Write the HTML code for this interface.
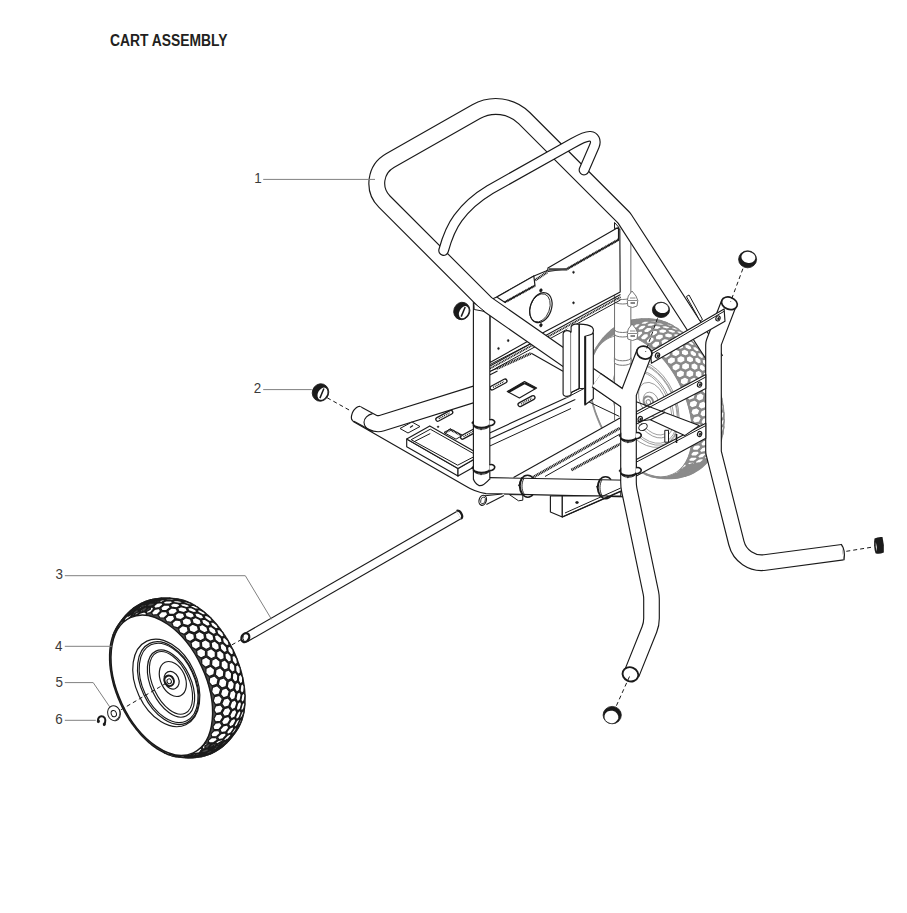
<!DOCTYPE html><html><head><meta charset="utf-8"><style>html,body{margin:0;padding:0;background:#fff;}body{width:907px;height:913px;position:relative;overflow:hidden;font-family:"Liberation Sans",sans-serif;}.t{position:absolute;font-family:"Liberation Sans",sans-serif;color:#231f20;white-space:nowrap;line-height:1;}</style></head><body><svg width="907" height="913" viewBox="0 0 907 913" style="position:absolute;left:0;top:0">
<rect width="907" height="913" fill="#fff"/>
<path d="M664.9 478.5 L663.6 478.4 L662.3 478.3 L657.9 477.9 L656.6 477.7 L655.3 477.5 L654.0 477.3 L652.6 477.0 L651.3 476.6 L649.9 476.2 L648.6 475.8 L647.2 475.3 L645.9 474.7 L644.5 474.1 L643.1 473.5 L641.8 472.8 L640.4 472.0 L639.0 471.3 L637.7 470.4 L636.3 469.6 L635.0 468.7 L633.6 467.7 L632.2 466.7 L630.9 465.7 L629.6 464.6 L628.2 463.5 L626.9 462.3 L625.6 461.1 L624.3 459.9 L623.0 458.6 L621.7 457.3 L620.5 456.0 L619.2 454.6 L618.0 453.2 L616.8 451.7 L615.6 450.3 L614.4 448.7 L613.2 447.2 L612.1 445.6 L610.9 444.1 L609.8 442.4 L608.7 440.8 L607.7 439.1 L606.6 437.5 L605.6 435.7 L604.6 434.0 L603.6 432.3 L602.7 430.5 L601.8 428.7 L600.9 426.9 L600.0 425.1 L599.2 423.3 L598.4 421.4 L597.6 419.6 L596.9 417.7 L596.2 415.9 L595.5 414.0 L594.8 412.1 L594.2 410.2 L593.6 408.3 L593.0 406.5 L592.5 404.6 L592.0 402.7 L591.6 400.8 L591.1 398.9 L590.7 397.0 L590.4 395.2 L590.1 393.3 L589.8 391.5 L589.5 389.6 L589.3 387.8 L589.1 386.0 L589.0 384.2 L588.9 382.4 L588.8 380.6 L588.8 378.8 L588.8 377.1 L588.8 375.4 L588.9 373.7 L589.0 372.0 L589.1 370.4 L589.3 368.7 L589.5 367.1 L589.7 365.5 L590.0 364.0 L590.3 362.5 L590.7 361.0 L591.1 359.5 L591.5 358.1 L592.0 356.7 L592.4 355.4 L593.0 354.0 L593.5 352.7 L594.1 351.5 L594.7 350.3 L595.4 349.1 L596.1 347.9 L596.8 346.8 L599.3 343.2 L600.1 342.1 L600.9 341.1 L603.6 337.7 L604.5 336.7 L605.3 335.7 L606.3 334.7 L607.2 333.8 L610.4 330.9 L611.4 330.0 L612.4 329.2 L613.4 328.5 L614.5 327.8 L615.6 327.1 L619.2 324.9 L620.3 324.2 L621.5 323.7 L622.7 323.2 L623.9 322.7 L627.9 321.3 L629.1 320.9 L630.4 320.6 L631.6 320.2 L632.9 320.0 L634.2 319.8 L638.5 319.2 L639.7 319.1 L641.1 319.0 L642.4 319.0 L643.7 319.0 L648.1 319.0 L649.4 319.1 L650.7 319.2 L655.1 319.6 L656.4 319.8 L657.7 320.0 L659.0 320.2 L660.4 320.5 L661.7 320.9 L663.1 321.3 L664.4 321.7 L665.8 322.2 L667.1 322.8 L668.5 323.4 L669.9 324.0 L671.2 324.7 L672.6 325.5 L674.0 326.2 L675.3 327.1 L676.7 327.9 L678.0 328.8 L679.4 329.8 L680.8 330.8 L682.1 331.8 L683.4 332.9 L684.8 334.0 L686.1 335.2 L687.4 336.4 L688.7 337.6 L690.0 338.9 L691.3 340.2 L692.5 341.5 L693.8 342.9 L695.0 344.3 L696.2 345.8 L697.4 347.2 L698.6 348.8 L699.8 350.3 L700.9 351.9 L702.1 353.4 L703.2 355.1 L704.3 356.7 L705.3 358.4 L706.4 360.0 L707.4 361.8 L708.4 363.5 L709.4 365.2 L710.3 367.0 L711.2 368.8 L712.1 370.6 L713.0 372.4 L713.8 374.2 L714.6 376.1 L715.4 377.9 L716.1 379.8 L716.8 381.6 L717.5 383.5 L718.2 385.4 L718.8 387.3 L719.4 389.2 L720.0 391.0 L720.5 392.9 L721.0 394.8 L721.4 396.7 L721.9 398.6 L722.3 400.5 L722.6 402.3 L722.9 404.2 L723.2 406.0 L723.5 407.9 L723.7 409.7 L723.9 411.5 L724.0 413.3 L724.1 415.1 L724.2 416.9 L724.2 418.7 L724.2 420.4 L724.2 422.1 L724.1 423.8 L724.0 425.5 L723.9 427.1 L723.7 428.8 L723.5 430.4 L723.3 432.0 L723.0 433.5 L722.7 435.0 L722.3 436.5 L721.9 438.0 L721.5 439.4 L721.0 440.8 L720.6 442.1 L720.0 443.5 L719.5 444.8 L718.9 446.0 L718.3 447.2 L717.6 448.4 L716.9 449.6 L716.2 450.7 L713.7 454.3 L712.9 455.4 L712.1 456.4 L709.4 459.8 L708.5 460.8 L707.7 461.8 L706.7 462.8 L705.8 463.7 L702.6 466.6 L701.6 467.5 L700.6 468.3 L699.6 469.0 L698.5 469.7 L697.4 470.4 L693.8 472.6 L692.7 473.3 L691.5 473.8 L690.3 474.3 L689.1 474.8 L685.1 476.2 L683.9 476.6 L682.6 476.9 L681.4 477.3 L680.1 477.5 L678.8 477.7 L674.5 478.3 L673.3 478.4 L671.9 478.5 L670.6 478.5 L669.3 478.5Z" fill="#8c8c8c" stroke="#8a8a8a" stroke-width="0.9"/>
<path d="M645.7 474.6 L649.4 475.7 L653.2 475.9 L652.6 474.9 L648.3 473.8 L644.7 473.6Z M651.1 476.6 L654.8 477.3 L658.7 477.6 L658.3 477.0 L653.9 476.2 L650.2 475.9Z M656.4 477.7 L660.2 478.1 L664.2 478.4 L663.8 478.2 L659.5 477.7 L655.6 477.5Z M661.6 478.1 L665.3 478.2 L669.4 478.5 L669.2 478.6 L664.9 478.5 L660.9 478.2Z M666.5 477.7 L670.1 477.4 L674.4 477.7 L674.4 478.1 L670.2 478.4 L666.0 478.1Z M671.1 476.5 L674.7 475.8 L679.1 476.1 L679.3 476.9 L675.1 477.5 L670.8 477.2Z M675.4 474.5 L678.9 473.5 L683.4 473.7 L683.8 474.8 L679.7 475.8 L675.3 475.5Z M679.4 471.7 L682.7 470.4 L687.3 470.5 L687.9 471.9 L684.0 473.3 L679.4 473.1Z M682.9 468.3 L686.0 466.6 L690.7 466.6 L691.6 468.3 L687.8 470.0 L683.2 469.9Z M685.9 464.1 L688.9 462.1 L693.7 462.0 L694.8 463.9 L691.2 466.0 L686.4 466.0Z M688.5 459.3 L691.2 457.0 L696.1 456.7 L697.5 458.9 L694.1 461.3 L689.2 461.4Z M690.5 453.9 L693.0 451.3 L698.0 450.9 L699.6 453.2 L696.4 456.0 L691.5 456.2Z M692.0 448.0 L694.3 445.2 L699.3 444.6 L701.2 447.0 L698.2 450.1 L693.3 450.5Z M692.9 441.7 L695.0 438.5 L700.0 437.8 L702.1 440.3 L699.4 443.6 L694.4 444.3Z M693.2 434.9 L695.1 431.6 L700.1 430.6 L702.5 433.2 L700.0 436.8 L695.0 437.6Z M693.0 427.8 L694.6 424.3 L699.6 423.1 L702.3 425.8 L700.0 429.6 L695.1 430.6Z M692.2 420.5 L693.6 416.8 L698.5 415.5 L701.4 418.1 L699.5 422.1 L694.5 423.2Z M690.8 413.0 L691.9 409.2 L696.8 407.6 L700.0 410.3 L698.3 414.4 L693.4 415.7Z M688.9 405.5 L689.8 401.6 L694.6 399.8 L698.0 402.3 L696.6 406.5 L691.7 408.1Z M686.5 397.9 L687.1 394.0 L691.9 392.0 L695.4 394.4 L694.3 398.7 L689.4 400.5Z M683.6 390.5 L683.9 386.5 L688.6 384.3 L692.3 386.6 L691.4 390.9 L686.7 392.9Z M680.1 383.2 L680.3 379.2 L684.9 376.8 L688.8 378.9 L688.1 383.2 L683.4 385.4Z M676.3 376.1 L676.2 372.2 L680.7 369.7 L684.7 371.5 L684.3 375.8 L679.7 378.2Z M672.1 369.4 L671.8 365.6 L676.1 362.9 L680.3 364.5 L680.1 368.7 L675.6 371.3Z M667.5 363.1 L667.0 359.4 L671.3 356.5 L675.5 357.8 L675.5 361.9 L671.1 364.7Z M662.6 357.3 L662.0 353.8 L666.1 350.7 L670.4 351.7 L670.5 355.7 L666.3 358.6Z M657.5 352.0 L656.8 348.6 L660.7 345.5 L665.0 346.2 L665.4 349.9 L661.3 353.0Z M652.3 347.3 L651.4 344.2 L655.2 340.9 L659.5 341.2 L659.9 344.8 L656.0 348.0Z M646.8 343.2 L645.9 340.4 L649.5 336.9 L653.8 337.0 L654.4 340.3 L650.6 343.6Z M641.4 339.8 L640.3 337.3 L643.8 333.8 L648.0 333.4 L648.7 336.5 L645.1 339.9Z M635.9 337.2 L634.8 334.9 L638.2 331.4 L642.3 330.7 L643.0 333.4 L639.5 336.9Z M630.5 335.3 L629.4 333.4 L632.6 329.8 L636.6 328.7 L637.4 331.1 L634.0 334.7Z M625.2 334.2 L624.1 332.6 L627.1 329.0 L631.0 327.5 L631.8 329.6 L628.6 333.2Z M620.0 333.9 L619.0 332.6 L621.9 329.0 L625.7 327.2 L626.4 328.9 L623.3 332.6Z M615.1 334.4 L614.1 333.5 L616.9 329.9 L620.5 327.7 L621.2 329.1 L618.3 332.7Z M610.5 335.7 L609.6 335.1 L612.3 331.5 L615.7 329.0 L616.3 330.1 L613.5 333.7Z M606.2 337.7 L605.5 337.5 L608.0 334.0 L611.2 331.2 L611.7 331.8 L609.0 335.4Z M602.4 340.5 L601.7 340.6 L604.2 337.2 L607.1 334.1 L607.5 334.4 L604.9 337.9Z M598.9 344.0 L598.4 344.5 L600.8 341.2 L603.4 337.8 L603.7 337.7 L601.2 341.1Z M595.9 348.2 L595.6 349.0 L597.9 345.9 L600.3 342.2 L600.3 341.8 L598.0 345.1Z M593.4 353.1 L593.2 354.2 L595.5 351.1 L597.6 347.3 L597.5 346.6 L595.2 349.7Z M591.4 358.5 L591.5 359.9 L593.7 357.0 L595.6 353.0 L595.2 351.9 L593.0 355.0Z M648.8 473.6 L653.0 474.7 L656.7 474.2 L655.9 472.5 L651.6 471.7 L648.1 472.3Z M654.5 476.1 L658.8 476.8 L662.5 476.3 L661.8 475.0 L657.5 474.6 L653.8 475.1Z M660.1 477.7 L664.4 478.1 L668.2 477.6 L667.6 476.7 L663.3 476.6 L659.6 477.0Z M665.5 478.5 L669.8 478.6 L673.7 478.1 L673.2 477.5 L669.0 477.8 L665.2 478.2Z M670.8 478.5 L675.0 478.2 L679.0 477.7 L678.7 477.5 L674.5 478.1 L670.6 478.6Z M675.8 477.6 L680.0 476.9 L684.0 476.5 L683.8 476.6 L679.7 477.6 L675.8 478.0Z M680.5 475.9 L684.5 474.9 L688.7 474.4 L688.7 474.9 L684.7 476.2 L680.6 476.7Z M684.8 473.5 L688.7 472.1 L692.9 471.5 L693.1 472.4 L689.3 474.0 L685.2 474.6Z M688.7 470.2 L692.4 468.5 L696.7 467.9 L697.1 469.0 L693.5 471.1 L689.3 471.6Z M692.1 466.2 L695.7 464.1 L700.0 463.5 L700.6 464.9 L697.2 467.3 L692.9 467.9Z M695.0 461.6 L698.4 459.1 L702.8 458.4 L703.7 460.1 L700.4 462.8 L696.1 463.5Z M697.4 456.2 L700.6 453.5 L705.0 452.6 L706.1 454.6 L703.1 457.6 L698.8 458.4Z M699.2 450.4 L702.2 447.3 L706.6 446.4 L708.0 448.5 L705.3 451.8 L700.9 452.7Z M700.5 443.9 L703.2 440.6 L707.7 439.6 L709.3 441.9 L706.8 445.4 L702.4 446.4Z M701.2 437.1 L703.6 433.5 L708.1 432.3 L710.0 434.8 L707.7 438.6 L703.3 439.6Z M701.2 429.8 L703.4 426.0 L707.9 424.8 L710.1 427.4 L708.1 431.3 L703.6 432.5Z M700.7 422.3 L702.6 418.3 L707.1 416.9 L709.5 419.6 L707.8 423.7 L703.4 425.0Z M699.6 414.6 L701.2 410.5 L705.6 408.9 L708.4 411.6 L706.9 415.8 L702.5 417.2Z M697.9 406.7 L699.3 402.5 L703.6 400.8 L706.6 403.5 L705.4 407.8 L701.0 409.3Z M695.6 398.8 L696.7 394.5 L701.1 392.7 L704.2 395.3 L703.3 399.7 L698.9 401.4Z M692.8 391.0 L693.7 386.6 L697.9 384.7 L701.3 387.2 L700.7 391.6 L696.3 393.4Z M689.5 383.2 L690.1 378.9 L694.3 376.9 L697.9 379.3 L697.5 383.6 L693.2 385.5Z M685.7 375.8 L686.1 371.5 L690.2 369.3 L694.0 371.6 L693.8 375.8 L689.6 377.8Z M681.4 368.6 L681.6 364.4 L685.7 362.1 L689.7 364.1 L689.6 368.3 L685.5 370.4Z M676.8 361.8 L676.8 357.7 L680.8 355.3 L684.9 357.1 L685.1 361.1 L681.0 363.4Z M671.9 355.4 L671.7 351.5 L675.7 349.0 L679.8 350.6 L680.1 354.4 L676.1 356.8Z M666.7 349.6 L666.4 345.8 L670.2 343.3 L674.4 344.6 L674.9 348.2 L671.0 350.6Z M661.3 344.4 L660.8 340.8 L664.5 338.2 L668.8 339.2 L669.4 342.5 L665.6 345.1Z M655.7 339.8 L655.1 336.5 L658.8 333.8 L663.1 334.4 L663.7 337.5 L660.0 340.2Z M650.0 335.9 L649.3 332.9 L652.9 330.1 L657.2 330.4 L657.9 333.2 L654.3 335.9Z M644.3 332.8 L643.5 330.1 L647.0 327.2 L651.3 327.2 L652.1 329.7 L648.5 332.4Z M638.6 330.4 L637.8 328.0 L641.2 325.2 L645.4 324.8 L646.2 326.9 L642.7 329.7Z M633.0 328.9 L632.2 326.8 L635.5 323.9 L639.6 323.2 L640.4 324.9 L637.0 327.8Z M627.5 328.1 L626.8 326.4 L630.0 323.5 L634.0 322.4 L634.7 323.8 L631.4 326.7Z M622.3 328.2 L621.6 326.9 L624.7 324.0 L628.6 322.5 L629.2 323.5 L626.0 326.4Z M617.3 329.1 L616.7 328.1 L619.7 325.3 L623.5 323.4 L624.0 324.1 L620.9 327.0Z M612.7 330.9 L612.2 330.3 L615.1 327.4 L618.7 325.2 L619.1 325.5 L616.0 328.4Z M608.4 333.4 L608.0 333.2 L610.9 330.4 L614.3 327.8 L614.5 327.8 L611.6 330.6Z M604.5 336.7 L604.3 336.8 L607.2 334.1 L610.3 331.3 L610.4 330.9 L607.5 333.6Z M601.1 340.7 L601.1 341.2 L603.9 338.6 L606.8 335.4 L606.7 334.7 L603.8 337.4Z M598.3 345.5 L598.4 346.3 L601.2 343.7 L603.8 340.3 L603.5 339.2 L600.7 341.9Z M595.9 350.8 L596.3 351.9 L599.0 349.5 L601.4 345.8 L600.8 344.5 L598.1 347.0Z M594.1 356.8 L594.7 358.2 L597.4 355.8 L599.6 352.0 L598.8 350.3 L596.0 352.8Z M652.1 471.3 L656.4 472.0 L659.9 470.4 L659.2 467.9 L656.6 468.5 L653.0 470.2Z M658.0 474.2 L662.3 474.6 L665.8 472.9 L665.1 470.8 L660.8 470.8 L657.2 472.4Z M663.8 476.2 L668.1 476.3 L671.6 474.7 L670.9 472.9 L666.7 473.2 L663.1 474.9Z M669.5 477.5 L673.8 477.2 L677.3 475.6 L676.6 474.2 L672.5 474.8 L668.9 476.5Z M675.0 477.9 L679.2 477.3 L682.8 475.6 L682.1 474.6 L678.1 475.6 L674.5 477.3Z M680.3 477.4 L684.4 476.4 L687.9 474.8 L687.4 474.1 L683.5 475.5 L680.0 477.2Z M685.3 476.1 L689.3 474.8 L692.8 473.1 L692.4 472.8 L688.7 474.6 L685.1 476.3Z M689.9 474.0 L693.7 472.3 L697.3 470.6 L697.1 470.7 L693.5 472.8 L689.9 474.5Z M694.2 471.1 L697.8 469.0 L701.3 467.3 L701.3 467.7 L697.9 470.2 L694.3 471.9Z M697.9 467.3 L701.3 464.9 L704.9 463.2 L705.0 464.0 L701.9 466.8 L698.3 468.4Z M701.2 462.9 L704.4 460.1 L708.0 458.5 L708.3 459.6 L705.4 462.6 L701.8 464.3Z M704.0 457.7 L706.9 454.7 L710.5 453.0 L711.1 454.4 L708.3 457.7 L704.8 459.4Z M706.1 451.9 L708.9 448.6 L712.4 447.0 L713.2 448.6 L710.8 452.2 L707.2 453.9Z M707.7 445.6 L710.2 442.0 L713.8 440.4 L714.8 442.3 L712.6 446.1 L709.1 447.7Z M708.7 438.8 L710.9 435.0 L714.5 433.3 L715.8 435.4 L713.9 439.4 L710.3 441.1Z M709.1 431.5 L711.0 427.5 L714.6 425.9 L716.2 428.2 L714.5 432.3 L711.0 433.9Z M708.8 423.9 L710.5 419.8 L714.1 418.1 L716.0 420.5 L714.6 424.8 L711.0 426.4Z M708.0 416.0 L709.4 411.8 L713.0 410.1 L715.1 412.7 L714.0 417.0 L710.4 418.7Z M706.5 408.0 L707.7 403.7 L711.2 402.0 L713.6 404.6 L712.8 409.0 L709.2 410.6Z M704.5 399.8 L705.4 395.5 L708.9 393.8 L711.6 396.5 L710.9 400.9 L707.4 402.5Z M701.9 391.7 L702.5 387.4 L706.1 385.7 L709.0 388.4 L708.6 392.7 L705.0 394.4Z M698.7 383.7 L699.1 379.4 L702.7 377.7 L705.8 380.4 L705.6 384.6 L702.1 386.3Z M695.0 375.9 L695.2 371.6 L698.8 370.0 L702.1 372.5 L702.1 376.6 L698.6 378.3Z M690.9 368.3 L690.9 364.2 L694.5 362.5 L698.0 365.0 L698.2 368.9 L694.6 370.6Z M686.4 361.1 L686.2 357.1 L689.7 355.5 L693.5 357.8 L693.8 361.5 L690.3 363.2Z M681.4 354.3 L681.1 350.5 L684.6 348.9 L688.5 351.0 L689.0 354.5 L685.5 356.2Z M676.2 348.0 L675.7 344.5 L679.3 342.8 L683.3 344.7 L683.9 348.0 L680.4 349.6Z M670.7 342.3 L670.1 339.0 L673.7 337.4 L677.8 339.0 L678.5 342.0 L675.0 343.7Z M665.0 337.3 L664.4 334.2 L667.9 332.6 L672.2 334.0 L672.9 336.7 L669.3 338.3Z M659.2 332.9 L658.5 330.2 L662.1 328.5 L666.3 329.6 L667.1 332.0 L663.6 333.6Z M653.3 329.3 L652.6 326.9 L656.1 325.2 L660.5 326.0 L661.2 328.0 L657.7 329.7Z M647.5 326.5 L646.7 324.4 L650.2 322.7 L654.6 323.1 L655.3 324.8 L651.8 326.5Z M641.6 324.4 L640.9 322.7 L644.4 321.1 L648.7 321.1 L649.4 322.4 L645.9 324.1Z M635.9 323.3 L635.2 321.9 L638.8 320.2 L643.0 319.9 L643.6 320.9 L640.1 322.6Z M630.4 322.9 L629.8 321.9 L633.4 320.3 L637.5 319.6 L638.0 320.2 L634.5 321.9Z M625.2 323.5 L624.6 322.8 L628.2 321.2 L632.3 320.1 L632.6 320.4 L629.1 322.0Z M620.2 324.8 L619.8 324.6 L623.4 322.9 L627.3 321.5 L627.5 321.4 L624.0 323.0Z M615.6 327.0 L615.4 327.1 L618.9 325.5 L622.7 323.7 L622.7 323.2 L619.2 324.9Z M611.4 330.0 L611.4 330.5 L614.9 328.8 L618.5 326.7 L618.3 325.9 L614.8 327.6Z M607.7 333.8 L607.8 334.6 L611.4 332.9 L614.8 330.5 L614.4 329.4 L610.8 331.0Z M604.4 338.3 L604.8 339.4 L608.4 337.8 L611.6 335.0 L610.9 333.6 L607.4 335.2Z M601.7 343.5 L602.3 344.9 L605.9 343.3 L608.9 340.2 L608.0 338.5 L604.4 340.2Z M599.6 349.4 L600.5 351.0 L604.0 349.4 L606.7 346.0 L605.6 344.1 L602.0 345.8Z M598.1 355.8 L599.5 355.5 L603.1 353.8 L605.2 352.4 L603.8 350.3 L600.2 351.9Z M661.2 470.1 L665.5 470.1 L669.0 467.3 L668.3 464.5 L664.0 464.8 L660.5 467.6Z M667.1 472.6 L671.3 472.2 L674.7 469.4 L674.0 466.9 L669.8 467.6 L666.3 470.4Z M672.9 474.2 L677.0 473.5 L680.3 470.6 L679.6 468.6 L675.5 469.6 L672.1 472.4Z M678.5 475.1 L682.6 474.0 L685.8 471.1 L685.1 469.4 L681.1 470.8 L677.8 473.6Z M684.0 475.0 L687.9 473.6 L691.0 470.7 L690.3 469.3 L686.5 471.1 L683.3 474.0Z M689.1 474.2 L692.9 472.3 L695.9 469.5 L695.3 468.5 L691.7 470.6 L688.6 473.5Z M694.0 472.4 L697.5 470.3 L700.5 467.4 L700.0 466.8 L696.6 469.3 L693.5 472.1Z M698.4 469.9 L701.8 467.4 L704.7 464.6 L704.3 464.3 L701.1 467.1 L698.1 469.9Z M702.4 466.5 L705.5 463.7 L708.4 461.0 L708.2 461.1 L705.2 464.2 L702.3 466.9Z M705.9 462.4 L708.9 459.3 L711.7 456.7 L711.6 457.1 L708.9 460.4 L706.0 463.1Z M709.0 457.6 L711.6 454.2 L714.4 451.7 L714.5 452.4 L712.1 456.0 L709.3 458.6Z M711.4 452.1 L713.8 448.5 L716.6 446.0 L716.9 447.1 L714.7 450.9 L712.0 453.5Z M713.3 446.0 L715.5 442.2 L718.2 439.8 L718.8 441.2 L716.8 445.2 L714.1 447.7Z M714.6 439.4 L716.5 435.4 L719.2 433.1 L720.0 434.8 L718.3 438.9 L715.6 441.3Z M715.3 432.3 L716.9 428.2 L719.6 426.0 L720.7 427.9 L719.3 432.2 L716.6 434.4Z M715.4 424.9 L716.7 420.6 L719.4 418.6 L720.7 420.7 L719.6 425.0 L716.9 427.2Z M714.8 417.1 L715.9 412.8 L718.6 410.9 L720.2 413.2 L719.3 417.5 L716.6 419.5Z M713.6 409.1 L714.5 404.8 L717.2 403.0 L719.1 405.4 L718.4 409.8 L715.7 411.7Z M711.9 401.0 L712.5 396.7 L715.2 395.0 L717.4 397.6 L717.0 401.9 L714.2 403.6Z M709.5 392.9 L709.9 388.6 L712.7 387.0 L715.1 389.7 L714.9 393.9 L712.2 395.5Z M706.6 384.8 L706.8 380.6 L709.6 379.2 L712.3 381.8 L712.3 385.9 L709.5 387.4Z M703.2 376.8 L703.2 372.7 L706.1 371.4 L709.0 374.1 L709.2 378.1 L706.3 379.5Z M699.3 369.1 L699.1 365.2 L702.0 364.0 L705.2 366.6 L705.5 370.4 L702.6 371.7Z M694.9 361.7 L694.6 357.9 L697.6 356.9 L701.0 359.4 L701.4 363.0 L698.5 364.1Z M690.2 354.6 L689.7 351.1 L692.8 350.2 L696.4 352.6 L696.9 355.9 L693.9 357.0Z M685.1 348.1 L684.5 344.9 L687.7 344.0 L691.4 346.3 L692.1 349.3 L689.0 350.2Z M679.7 342.1 L679.0 339.1 L682.3 338.4 L686.2 340.5 L686.9 343.2 L683.8 344.0Z M674.1 336.7 L673.4 334.0 L676.8 333.4 L680.8 335.2 L681.5 337.6 L678.3 338.4Z M668.4 332.0 L667.6 329.6 L671.1 329.0 L675.2 330.7 L676.0 332.7 L672.6 333.4Z M662.5 328.0 L661.7 326.0 L665.3 325.4 L669.5 326.8 L670.2 328.5 L666.8 329.1Z M656.6 324.7 L655.9 323.1 L659.5 322.6 L663.8 323.6 L664.5 325.0 L660.9 325.5Z M650.7 322.3 L650.0 321.0 L653.8 320.5 L658.1 321.3 L658.7 322.3 L655.0 322.8Z M644.9 320.7 L644.3 319.8 L648.2 319.3 L652.5 319.7 L653.0 320.3 L649.2 320.8Z M639.3 319.9 L638.8 319.4 L642.7 318.9 L647.0 319.0 L647.4 319.2 L643.6 319.7Z M633.9 320.0 L633.6 319.9 L637.5 319.4 L641.8 319.1 L642.0 319.0 L638.1 319.4Z M628.8 321.0 L628.6 321.2 L632.7 320.7 L636.8 320.0 L636.8 319.5 L632.8 320.0Z M624.0 322.8 L624.0 323.3 L628.1 322.8 L632.2 321.7 L632.0 320.9 L627.9 321.4Z M619.6 325.4 L619.8 326.2 L624.0 325.7 L627.9 324.3 L627.5 323.1 L623.4 323.7Z M615.6 328.8 L616.0 330.0 L620.3 329.4 L624.0 327.6 L623.4 326.2 L619.2 326.7Z M612.1 332.9 L612.8 334.4 L617.1 333.7 L620.7 331.6 L619.8 329.9 L615.5 330.5Z M609.1 337.8 L610.0 339.6 L614.4 338.8 L617.8 336.3 L616.7 334.4 L612.3 335.1Z M606.7 343.4 L607.9 345.3 L612.2 344.5 L615.4 341.7 L614.0 339.6 L609.7 340.3Z M604.8 349.5 L606.3 351.7 L610.7 350.7 L613.6 347.6 L612.0 345.3 L607.6 346.2Z M670.2 466.7 L674.4 466.0 L677.8 462.4 L676.7 460.1 L673.0 460.4 L669.5 463.9Z M675.9 468.7 L680.0 467.6 L683.2 464.0 L682.1 462.1 L678.5 462.7 L675.2 466.2Z M681.5 469.9 L685.4 468.5 L688.5 464.9 L687.4 463.2 L684.0 464.2 L680.8 467.8Z M686.9 470.3 L690.7 468.5 L693.6 464.9 L692.6 463.6 L689.2 464.9 L686.2 468.5Z M692.1 469.9 L695.7 467.7 L698.5 464.1 L697.5 463.2 L694.3 464.8 L691.4 468.5Z M697.0 468.6 L700.3 466.1 L703.0 462.6 L702.1 462.0 L699.1 464.0 L696.3 467.6Z M701.5 466.5 L704.7 463.7 L707.2 460.2 L706.4 460.0 L703.6 462.3 L701.0 465.8Z M705.6 463.6 L708.5 460.6 L711.0 457.1 L710.4 457.2 L707.8 459.8 L705.2 463.3Z M709.3 460.0 L712.0 456.6 L714.4 453.3 L713.9 453.8 L711.5 456.6 L709.1 460.0Z M712.5 455.6 L714.9 452.0 L717.2 448.9 L716.9 449.6 L714.8 452.7 L712.4 456.0Z M715.2 450.6 L717.3 446.8 L719.6 443.7 L719.5 444.8 L717.6 448.2 L715.3 451.3Z M717.3 445.0 L719.2 441.0 L721.4 438.1 L721.5 439.4 L719.9 443.0 L717.6 446.0Z M718.9 438.8 L720.5 434.6 L722.7 431.9 L723.0 433.5 L721.6 437.2 L719.4 440.1Z M719.8 432.1 L721.2 427.8 L723.3 425.3 L723.9 427.2 L722.8 431.0 L720.6 433.7Z M720.2 425.0 L721.3 420.7 L723.4 418.3 L724.2 420.4 L723.4 424.3 L721.3 426.9Z M720.0 417.5 L720.8 413.2 L723.0 411.0 L724.0 413.3 L723.4 417.3 L721.3 419.6Z M719.1 409.8 L719.7 405.5 L721.9 403.5 L723.2 406.0 L722.9 410.0 L720.7 412.1Z M717.7 402.0 L718.1 397.7 L720.3 395.9 L721.8 398.5 L721.7 402.5 L719.5 404.4Z M715.7 394.1 L715.9 389.9 L718.1 388.3 L719.9 391.0 L720.0 394.9 L717.8 396.6Z M713.1 386.1 L713.1 382.0 L715.4 380.7 L717.5 383.4 L717.8 387.2 L715.5 388.8Z M710.0 378.3 L709.8 374.4 L712.3 373.2 L714.6 376.0 L715.0 379.6 L712.7 381.0Z M706.4 370.6 L706.1 366.9 L708.6 365.9 L711.1 368.7 L711.8 372.2 L709.3 373.3Z M702.4 363.2 L701.9 359.7 L704.6 359.0 L707.3 361.6 L708.1 364.9 L705.5 365.9Z M698.0 356.2 L697.4 352.9 L700.1 352.3 L703.1 354.9 L704.0 358.0 L701.3 358.7Z M693.2 349.6 L692.5 346.6 L695.4 346.2 L698.5 348.6 L699.5 351.4 L696.7 352.0Z M688.1 343.4 L687.3 340.8 L690.4 340.5 L693.6 342.8 L694.7 345.3 L691.8 345.7Z M682.7 337.9 L682.0 335.5 L685.1 335.4 L688.5 337.5 L689.6 339.7 L686.6 340.0Z M677.2 332.9 L676.4 330.9 L679.7 330.9 L683.3 332.8 L684.4 334.7 L681.2 334.8Z M671.5 328.7 L670.8 327.0 L674.2 327.1 L677.8 328.7 L679.0 330.3 L675.6 330.3Z M665.7 325.1 L665.1 323.8 L668.7 324.0 L672.4 325.3 L673.4 326.6 L670.0 326.5Z M660.0 322.4 L659.4 321.4 L663.2 321.7 L666.9 322.7 L667.9 323.6 L664.3 323.5Z M654.3 320.4 L653.8 319.8 L657.7 320.1 L661.5 320.8 L662.4 321.4 L658.6 321.2Z M648.7 319.3 L648.4 319.0 L652.4 319.3 L656.2 319.7 L657.0 320.0 L653.0 319.7Z M643.3 318.9 L643.2 319.1 L647.3 319.4 L651.0 319.4 L651.7 319.3 L647.6 319.0Z M638.2 319.4 L638.2 319.9 L642.5 320.2 L646.1 319.9 L646.6 319.4 L642.4 319.1Z M633.4 320.8 L633.5 321.6 L638.0 321.8 L641.5 321.2 L641.8 320.4 L637.5 320.1Z M628.9 322.9 L629.3 324.1 L633.8 324.2 L637.2 323.2 L637.4 322.1 L632.9 321.9Z M624.8 325.9 L625.4 327.3 L630.1 327.4 L633.4 326.0 L633.3 324.6 L628.7 324.5Z M621.1 329.6 L622.0 331.3 L626.7 331.2 L629.9 329.5 L629.6 327.9 L624.9 327.8Z M618.0 334.0 L619.1 335.9 L623.9 335.8 L626.9 333.7 L626.3 331.8 L621.6 331.9Z M615.3 339.1 L616.7 341.2 L621.6 340.9 L624.4 338.6 L623.6 336.5 L618.7 336.6Z M613.2 344.7 L614.9 347.1 L619.8 346.6 L622.4 344.0 L621.3 341.7 L616.4 342.0Z" fill="#fff" stroke="#8a8a8a" stroke-width="1.4" stroke-linejoin="round"/>
<ellipse cx="641.0" cy="406.0" rx="75.17" ry="44.30" transform="rotate(65.0 641.0 406.0)" fill="#fff" stroke="#8a8a8a" stroke-width="0.9"/>
<ellipse cx="645.5" cy="403.7" rx="46.13" ry="30.13" transform="rotate(65.0 645.5 403.7)" fill="none" stroke="#8a8a8a" stroke-width="0.765"/>
<ellipse cx="647.4" cy="403.9" rx="43.85" ry="27.01" transform="rotate(65.0 647.4 403.9)" fill="none" stroke="#8a8a8a" stroke-width="0.765"/>
<ellipse cx="647.8" cy="403.7" rx="42.00" ry="25.86" transform="rotate(65.0 647.8 403.7)" fill="none" stroke="#8a8a8a" stroke-width="0.7200000000000001"/>
<ellipse cx="650.2" cy="404.4" rx="35.82" ry="20.05" transform="rotate(65.0 650.2 404.4)" fill="none" stroke="#8a8a8a" stroke-width="0.765"/>
<ellipse cx="650.2" cy="403.7" rx="33.50" ry="18.00" transform="rotate(65.0 650.2 403.7)" fill="none" stroke="#8a8a8a" stroke-width="0.7200000000000001"/>
<ellipse cx="652.0" cy="399.8" rx="18.39" ry="12.25" transform="rotate(65.0 652.0 399.8)" fill="none" stroke="#8a8a8a" stroke-width="0.765"/>
<ellipse cx="650.8" cy="401.0" rx="9.18" ry="7.15" transform="rotate(65.0 650.8 401.0)" fill="#fff" stroke="#8a8a8a" stroke-width="0.765"/>
<ellipse cx="648.4" cy="401.6" rx="5.33" ry="4.55" transform="rotate(65.0 648.4 401.6)" fill="#fff" stroke="#8a8a8a" stroke-width="2.0"/>
<ellipse cx="648.4" cy="402.1" rx="2.45" ry="2.14" transform="rotate(65.0 648.4 402.1)" fill="none" stroke="#8a8a8a" stroke-width="1.0"/>
<path d="M622.7 225 L622.7 420" stroke="#6f6f6f" stroke-width="17.30" fill="none" stroke-linecap="butt" stroke-linejoin="round"/>
<path d="M622.7 225 L622.7 420" stroke="#fff" stroke-width="15.30" fill="none" stroke-linecap="butt" stroke-linejoin="round"/>
<path d="M614.4 296.5 A8.3 3.0 0 0 0 631 296.5 L631 301.0 A8.3 3.0 0 0 1 614.4 301.0Z" fill="#fff" stroke="#777" stroke-width="1.0"/>
<path d="M628.3 296.0 L632 291.0 L636 296.0 L637.8 300.5 L637 306.0 Q632.5 309.0 627.8 306.0 L627.3 300.5 Z" fill="#fff" stroke="#777" stroke-width="1.0"/>
<path d="M628 300.5 L637.5 300.5 M630 298.0 L635.5 298.0" stroke="#888" stroke-width="1.0"/>
<path d="M630.5 303.0 L635 303.0" stroke="#666" stroke-width="1.6"/>
<path d="M614.4 329.5 A8.3 3.0 0 0 0 631 329.5 L631 334.0 A8.3 3.0 0 0 1 614.4 334.0Z" fill="#fff" stroke="#777" stroke-width="1.0"/>
<path d="M628.3 329.0 L632 324.0 L636 329.0 L637.8 333.5 L637 339.0 Q632.5 342.0 627.8 339.0 L627.3 333.5 Z" fill="#fff" stroke="#777" stroke-width="1.0"/>
<path d="M628 333.5 L637.5 333.5 M630 331.0 L635.5 331.0" stroke="#888" stroke-width="1.0"/>
<path d="M630.5 336.0 L635 336.0" stroke="#666" stroke-width="1.6"/>
<path d="M614.4 357.8 A8.3 3.0 0 0 0 631 357.8 L631 362.3 A8.3 3.0 0 0 1 614.4 362.3Z" fill="#fff" stroke="#777" stroke-width="1.0"/>
<path d="M496.8 297.0 L534.0 276.0 L546.0 271.0 L617.5 228.5 L619.8 229.0 L620.2 292.0 L545.3 331.5 L490.0 362.5 L490.0 300.0Z" stroke="#1a1a1a" stroke-width="1.15" fill="#fff" stroke-linejoin="round" />
<path d="M496.8 297.0 L533.8 275.9 L535.0 285.6 L504.7 302.3Z" stroke="#1a1a1a" stroke-width="1.15" fill="#fff" stroke-linejoin="round" />
<path d="M504.7 302.3 L535.0 285.6" stroke="#1a1a1a" stroke-width="2.4" fill="none" stroke-linejoin="round" stroke-dasharray="1.1 0.6"/>
<path d="M547.9 267.9 L616.7 228.2 L618.5 228.5 L618.5 239.7 L567.3 268.8 L548.0 271.5Z" stroke="#1a1a1a" stroke-width="1.15" fill="#fff" stroke-linejoin="round" />
<path d="M567.3 268.8 L618.5 239.7" stroke="#1a1a1a" stroke-width="2.6" fill="none" stroke-linejoin="round" stroke-dasharray="1.1 0.6"/>
<path d="M535.2 280.2 L547.2 272.2" stroke="#1a1a1a" stroke-width="2.6" fill="none" stroke-linejoin="round" stroke-dasharray="1.1 0.6"/>
<path d="M549.0 269.4 L567.4 269.4" stroke="#444" stroke-width="2.4" fill="none" stroke-linejoin="round" />
<path d="M490.0 366.0 L620.5 294.5" stroke="#1a1a1a" stroke-width="1.1" fill="none" stroke-linejoin="round" />
<path d="M490.0 368.5 L620.5 297.0" stroke="#1a1a1a" stroke-width="1.8" fill="none" stroke-linejoin="round" stroke-dasharray="1.1 0.6"/>
<path d="M490.0 371.5 L620.5 300.0" stroke="#1a1a1a" stroke-width="1.0" fill="none" stroke-linejoin="round" />
<ellipse cx="540.9" cy="307.6" rx="15.5" ry="10.5" transform="rotate(110 540.9 307.6)" stroke="#1a1a1a" stroke-width="1.2" fill="none" />
<ellipse cx="539.9" cy="307.9" rx="14.6" ry="9.6" transform="rotate(110 539.9 307.9)" stroke="#1a1a1a" stroke-width="0.8" fill="none" />
<ellipse cx="540.9" cy="290.4" rx="1.3" ry="1.7" transform="rotate(20 540.9 290.4)" stroke="#1a1a1a" stroke-width="0.5" fill="#1a1a1a" />
<ellipse cx="540.9" cy="325.2" rx="1.3" ry="1.7" transform="rotate(20 540.9 325.2)" stroke="#1a1a1a" stroke-width="0.5" fill="#1a1a1a" />
<ellipse cx="573.5" cy="272.3" rx="0.9" ry="1.1" transform="rotate(0 573.5 272.3)" stroke="#1a1a1a" stroke-width="0.5" fill="#1a1a1a" />
<ellipse cx="573.5" cy="302.8" rx="0.9" ry="1.1" transform="rotate(0 573.5 302.8)" stroke="#1a1a1a" stroke-width="0.5" fill="#1a1a1a" />
<ellipse cx="508.2" cy="340.6" rx="0.9" ry="1.1" transform="rotate(0 508.2 340.6)" stroke="#1a1a1a" stroke-width="0.5" fill="#1a1a1a" />
<ellipse cx="498.5" cy="348.5" rx="0.9" ry="1.1" transform="rotate(0 498.5 348.5)" stroke="#1a1a1a" stroke-width="0.5" fill="#1a1a1a" />
<path d="M614.5 222.5 L619.0 227.5 L614.5 228.5Z" stroke="#1a1a1a" stroke-width="1.0" fill="#fff" stroke-linejoin="round" />
<path d="M513.5 477.5 L620.5 417.8 L620.5 482.0 L513.5 482.0Z" stroke="#fff" stroke-width="0.1" fill="#fff" stroke-linejoin="round" />
<path d="M490.0 364.5 L531.0 343.5" stroke="#1a1a1a" stroke-width="1.0" fill="none" stroke-linejoin="round" />
<path d="M497.0 368.5 L531.3 353.2" stroke="#1a1a1a" stroke-width="2.8" fill="none" stroke-linejoin="round" stroke-dasharray="1.1 0.6"/>
<path d="M489.6 375.0 L497.5 371.0" stroke="#1a1a1a" stroke-width="1.1" fill="none" stroke-linejoin="round" />
<path d="M489.6 371.5 L497.0 368.5" stroke="#1a1a1a" stroke-width="1.0" fill="none" stroke-linejoin="round" />
<path d="M531.3 353.2 L563.0 371.3" stroke="#1a1a1a" stroke-width="1.15" fill="none" stroke-linejoin="round" />
<path d="M489.6 432.9 L582.2 390.4" stroke="#1a1a1a" stroke-width="1.15" fill="none" stroke-linejoin="round" />
<path d="M489.6 439.1 L583.8 395.6" stroke="#1a1a1a" stroke-width="1.15" fill="none" stroke-linejoin="round" />
<path d="M489.6 446.1 L571.0 408.5" stroke="#1a1a1a" stroke-width="1.0" fill="none" stroke-linejoin="round" />
<path d="M583.8 399.5 L619.3 416.4" stroke="#1a1a1a" stroke-width="1.0" fill="none" stroke-linejoin="round" />
<path d="M513.5 477.5 L620.0 418.0" stroke="#1a1a1a" stroke-width="1.15" fill="none" stroke-linejoin="round" />
<path d="M533.0 477.3 L620.0 428.0" stroke="#1a1a1a" stroke-width="2.8" fill="none" stroke-linejoin="round" stroke-dasharray="1.1 0.6"/>
<path d="M545.0 476.5 L620.0 434.0" stroke="#1a1a1a" stroke-width="1.0" fill="none" stroke-linejoin="round" />
<path d="M571.4 470.0 L620.0 444.0" stroke="#1a1a1a" stroke-width="2.8" fill="none" stroke-linejoin="round" stroke-dasharray="1.1 0.6"/>
<path d="M492.0 388.0 L505.0 381.0" stroke="#1a1a1a" stroke-width="5.2" stroke-linecap="round"/>
<path d="M492.0 388.0 L505.0 381.0" stroke="#fff" stroke-width="2.6" stroke-linecap="round"/>
<path d="M493.0 387.4 L504.0 381.6" stroke="#1a1a1a" stroke-width="1.4" stroke-dasharray="1 1"/>
<path d="M520.0 404.6 L533.0 397.6" stroke="#1a1a1a" stroke-width="5.2" stroke-linecap="round"/>
<path d="M520.0 404.6 L533.0 397.6" stroke="#fff" stroke-width="2.6" stroke-linecap="round"/>
<path d="M521.0 404.0 L532.0 398.2" stroke="#1a1a1a" stroke-width="1.4" stroke-dasharray="1 1"/>
<path d="M437.8 419.3 L450.8 412.3" stroke="#1a1a1a" stroke-width="5.2" stroke-linecap="round"/>
<path d="M437.8 419.3 L450.8 412.3" stroke="#fff" stroke-width="2.6" stroke-linecap="round"/>
<path d="M438.8 418.7 L449.8 412.9" stroke="#1a1a1a" stroke-width="1.4" stroke-dasharray="1 1"/>
<path d="M462.5 437.2 L475.5 430.2" stroke="#1a1a1a" stroke-width="5.2" stroke-linecap="round"/>
<path d="M462.5 437.2 L475.5 430.2" stroke="#fff" stroke-width="2.6" stroke-linecap="round"/>
<path d="M463.5 436.6 L474.5 430.8" stroke="#1a1a1a" stroke-width="1.4" stroke-dasharray="1 1"/>
<path d="M507.3 391.6 L524.5 381.6 L536.6 388.0 L519.4 398.0Z" stroke="#1a1a1a" stroke-width="1.15" fill="#fff" stroke-linejoin="round" />
<path d="M508.5 392.0 L524.5 383.0" stroke="#1a1a1a" stroke-width="2.2" fill="none" stroke-linejoin="round" />
<path d="M524.5 383.0 L535.5 388.6" stroke="#1a1a1a" stroke-width="2.0" fill="none" stroke-linejoin="round" />
<path d="M444.1 432.6 L450.5 429.0 L462.4 435.4 L456.0 439.2Z" stroke="#1a1a1a" stroke-width="1.0" fill="#fff" stroke-linejoin="round" />
<path d="M444.6 432.9 L450.5 429.6 L461.8 435.6" stroke="#1a1a1a" stroke-width="2.4" fill="none" stroke-linejoin="round" stroke-dasharray="0.9 0.6"/>
<ellipse cx="438.1" cy="426.8" rx="0.9" ry="0.8" transform="rotate(0 438.1 426.8)" stroke="#1a1a1a" stroke-width="0.5" fill="#1a1a1a" />
<path d="M470.0 477.2 L628.5 480.3 L628.5 497.0 L470.0 494.0Z" stroke="#fff" stroke-width="0.1" fill="#fff" stroke-linejoin="round" />
<path d="M489.4 477.6 L628.5 480.3" stroke="#1a1a1a" stroke-width="1.15" fill="none" stroke-linejoin="round" />
<path d="M352.8 421.2 L466 486.3 Q475 492 486 493.6 L628.5 496.9" stroke="#1a1a1a" stroke-width="1.15" fill="none"/>
<path d="M476.5 393.5 L381.8 423.1 A12.0 12.0 0 0 1 372.5 422.2 L356.8 413.7" stroke="#1a1a1a" stroke-width="17.15" fill="none" stroke-linecap="butt" stroke-linejoin="round"/>
<path d="M476.5 393.5 L381.8 423.1 A12.0 12.0 0 0 1 372.5 422.2 L356.8 413.7" stroke="#fff" stroke-width="14.85" fill="none" stroke-linecap="butt" stroke-linejoin="round"/>
<path d="M360.7 406.7 L360.1 406.5 L359.5 406.4 L358.9 406.5 L358.2 406.6 L357.5 407.0 L356.7 407.4 L356.0 408.0 L355.3 408.6 L354.6 409.4 L353.9 410.2 L353.3 411.1 L352.8 412.1 L352.3 413.1 L352.0 414.1 L351.7 415.1 L351.5 416.0 L351.4 416.9 L351.4 417.8 L351.5 418.6 L351.7 419.3 L352.0 419.9 L352.4 420.3 L352.9 420.7 L354.3 420.6 L361.4 408.0Z" stroke="#fff" stroke-width="0.1" fill="#fff" stroke-linejoin="round" />
<path d="M360.7 406.7 L360.1 406.5 L359.5 406.4 L358.9 406.5 L358.2 406.6 L357.5 407.0 L356.7 407.4 L356.0 408.0 L355.3 408.6 L354.6 409.4 L353.9 410.2 L353.3 411.1 L352.8 412.1 L352.3 413.1 L352.0 414.1 L351.7 415.1 L351.5 416.0 L351.4 416.9 L351.4 417.8 L351.5 418.6 L351.7 419.3 L352.0 419.9 L352.4 420.3 L352.9 420.7" stroke="#1a1a1a" stroke-width="1.2" fill="none" stroke-linejoin="round" />
<path d="M372.6 413.6 C367.5 414.8 364.2 418.5 364.0 422.2 C363.9 426.2 367.5 430.2 372.6 431.4" stroke="#1a1a1a" stroke-width="1.1" fill="none"/>
<path d="M550.4 496.0 L562.3 496.0 L562.3 517.0 L550.4 512.0Z" stroke="#1a1a1a" stroke-width="1.15" fill="#fff" stroke-linejoin="round" />
<path d="M562.3 496.0 L620.8 496.0 L620.8 491.0 L562.3 517.0Z" stroke="#1a1a1a" stroke-width="1.15" fill="#fff" stroke-linejoin="round" />
<path d="M562.3 517.0 L620.8 491.5" stroke="#1a1a1a" stroke-width="1.15" fill="none" stroke-linejoin="round" />
<path d="M565.0 513.0 L620.8 488.0" stroke="#1a1a1a" stroke-width="1.0" fill="none" stroke-linejoin="round" />
<ellipse cx="577.0" cy="502.5" rx="1.5" ry="1.1" transform="rotate(0 577.0 502.5)" stroke="#1a1a1a" stroke-width="0.6" fill="#1a1a1a" />
<path d="M484.5 495.6 L503.5 493.8 L504.5 496.0 L486.6 504.6Z" stroke="#fff" stroke-width="0.1" fill="#fff" stroke-linejoin="round" />
<path d="M484.6 495.8 L502.5 494.0" stroke="#1a1a1a" stroke-width="1.0" fill="none" stroke-linejoin="round" />
<path d="M486.4 504.4 L504.0 495.6" stroke="#1a1a1a" stroke-width="1.1" fill="none" stroke-linejoin="round" />
<ellipse cx="482.7" cy="500.3" rx="3.6" ry="5.1" transform="rotate(18 482.7 500.3)" stroke="#1a1a1a" stroke-width="1.2" fill="#fff" />
<ellipse cx="483.0" cy="500.4" rx="2.2" ry="3.5" transform="rotate(18 483.0 500.4)" stroke="#1a1a1a" stroke-width="0.8" fill="none" />
<path d="M509.4 494.6 L518.5 500.8 L522.8 500.2 L522.8 494.8Z" stroke="#1a1a1a" stroke-width="1.0" fill="#fff" stroke-linejoin="round" />
<path d="M522.0 478.3 C524.5 474.2 530.5 474.2 533.0 478.2" stroke="#1a1a1a" stroke-width="1.5" fill="none"/>
<path d="M522.5 494.2 C525.0 498.2 530.5 498.2 533.0 494.4" stroke="#1a1a1a" stroke-width="1.5" fill="none"/>
<path d="M522.2 477.5 C519.0 483.0 519.0 489.4 522.7 495.0" stroke="#1a1a1a" stroke-width="2.0" fill="none"/>
<path d="M523.9 478.5 C521.3 483.0 521.3 489.4 524.1 494.1" stroke="#1a1a1a" stroke-width="0.9" fill="none"/>
<path d="M520.1 482.5 L517.9 485.6 L519.9 486.6 Z" fill="#1a1a1a"/>
<path d="M600.0 479.8 C602.5 475.7 608.5 475.7 611.0 479.7" stroke="#1a1a1a" stroke-width="1.5" fill="none"/>
<path d="M600.5 495.7 C603.0 499.7 608.5 499.7 611.0 495.9" stroke="#1a1a1a" stroke-width="1.5" fill="none"/>
<path d="M600.2 479.0 C597.0 484.5 597.0 490.9 600.7 496.5" stroke="#1a1a1a" stroke-width="2.0" fill="none"/>
<path d="M601.9 480.0 C599.3 484.5 599.3 490.9 602.1 495.6" stroke="#1a1a1a" stroke-width="0.9" fill="none"/>
<path d="M598.1 484.0 L595.9 487.1 L597.9 488.1 Z" fill="#1a1a1a"/>
<path d="M406.7 439.1 L458.0 468.5 L458.0 476.1 L406.7 446.7Z" stroke="#1a1a1a" stroke-width="1.15" fill="#fff" stroke-linejoin="round" />
<path d="M458.0 468.5 L481.1 455.3 L481.1 462.9 L458.0 476.1Z" stroke="#1a1a1a" stroke-width="1.15" fill="#fff" stroke-linejoin="round" />
<path d="M406.7 439.1 L429.8 425.9 L481.1 455.3 L458.0 468.5Z" stroke="#1a1a1a" stroke-width="1.15" fill="#fff" stroke-linejoin="round" />
<path d="M411.2 439.7 L430.3 429.2 L476.6 455.3 L457.7 465.2Z" stroke="#1a1a1a" stroke-width="1.0" fill="#fff" stroke-linejoin="round" />
<path d="M413.7 441.9 L430.3 433.5" stroke="#1a1a1a" stroke-width="1.0" fill="none" stroke-linejoin="round" />
<path d="M400.0 428.5 L412.0 422.0 L420.0 426.5 L408.0 433.0Z" stroke="#1a1a1a" stroke-width="1.0" fill="#fff" stroke-linejoin="round" />
<path d="M410.0 427.5 L413.0 425.5" stroke="#1a1a1a" stroke-width="1.2" fill="none" stroke-linejoin="round" />
<path d="M481.6 300 L481.6 479.5" stroke="#1a1a1a" stroke-width="17.55" fill="none" stroke-linecap="butt" stroke-linejoin="round"/>
<path d="M481.6 300 L481.6 479.5" stroke="#fff" stroke-width="15.25" fill="none" stroke-linecap="butt" stroke-linejoin="round"/>
<path d="M473.4 479 Q474.5 483 479 485.6 Q483 486.5 489.8 478.8" stroke="#1a1a1a" stroke-width="1.15" fill="#fff"/>
<path d="M473.4 424.5 A8.2 3.3 0 0 0 489.8 424.5" stroke="#1a1a1a" stroke-width="2.1" fill="none"/>
<path d="M474.0 425.9 A7.6 3.3 0 0 0 489.2 425.9" stroke="#1a1a1a" stroke-width="0.9" fill="none"/>
<path d="M474.0 419.5 L471.2 423.0 L474.0 425.1 Z" fill="#1a1a1a"/>
<path d="M489.5 419.9 C492.8 418.9 495.8 421.0 494.3 423.5 C493.3 425.0 490.8 426.0 489.5 425.3" stroke="#1a1a1a" stroke-width="1.5" fill="#fff"/>
<path d="M479.8 428.4 L481.0 430.4 L482.4 428.4Z" fill="#1a1a1a"/>
<path d="M473.4 469.5 A8.2 3.3 0 0 0 489.8 469.5" stroke="#1a1a1a" stroke-width="2.1" fill="none"/>
<path d="M474.0 470.9 A7.6 3.3 0 0 0 489.2 470.9" stroke="#1a1a1a" stroke-width="0.9" fill="none"/>
<path d="M474.0 464.5 L471.2 468.0 L474.0 470.1 Z" fill="#1a1a1a"/>
<path d="M489.5 464.9 C492.8 463.9 495.8 466.0 494.3 468.5 C493.3 470.0 490.8 471.0 489.5 470.3" stroke="#1a1a1a" stroke-width="1.5" fill="#fff"/>
<path d="M479.8 473.4 L481.0 475.4 L482.4 473.4Z" fill="#1a1a1a"/>
<path d="M628.5 402.4 L487.1 304.1 A10.0 10.0 0 0 1 485.8 303.0 L384.4 201.6 A26.0 26.0 0 0 1 390.0 160.6 L476.2 111.7 A40.0 40.0 0 0 1 524.2 118.1 L623.2 217.1 A14.0 14.0 0 0 1 625.0 219.3 L716.0 360.0" stroke="#1a1a1a" stroke-width="16.95" fill="none" stroke-linecap="butt" stroke-linejoin="round"/>
<path d="M628.5 402.4 L487.1 304.1 A10.0 10.0 0 0 1 485.8 303.0 L384.4 201.6 A26.0 26.0 0 0 1 390.0 160.6 L476.2 111.7 A40.0 40.0 0 0 1 524.2 118.1 L623.2 217.1 A14.0 14.0 0 0 1 625.0 219.3 L716.0 360.0" stroke="#fff" stroke-width="14.65" fill="none" stroke-linecap="butt" stroke-linejoin="round"/>
<path d="M473.8 302.8 L484.5 311.4 L474.2 309.5Z" fill="#fff" stroke="#1a1a1a" stroke-width="1.0"/>
<path d="M443.6 250.5 C446.5 240 450.5 228 458 218 C466 207 476 198 490 189.6 L573 143 C580 139 586 136 590 136.3 C594.5 136.8 596.5 140.5 594.6 145.5 L584 170" stroke="#1a1a1a" stroke-width="10.75" fill="none" stroke-linecap="round" stroke-linejoin="round"/>
<path d="M443.6 250.5 C446.5 240 450.5 228 458 218 C466 207 476 198 490 189.6 L573 143 C580 139 586 136 590 136.3 C594.5 136.8 596.5 140.5 594.6 145.5 L584 170" stroke="#fff" stroke-width="8.45" fill="none" stroke-linecap="round" stroke-linejoin="round"/>
<path d="M563.1 333.0 L572.0 324.5 L580.0 323.8 L590.5 325.5 L593.5 330.0 L593.3 398.6 L585.2 404.8 L583.3 404.5 L570.5 396.5 L566.0 397.5 L563.1 395.0Z" stroke="#fff" stroke-width="0.1" fill="#fff" stroke-linejoin="round" />
<path d="M563.1 394 L563.1 334 Q563.4 331 566.8 330.6 Q570.6 330.4 571.1 333 L571.1 394.5 Q570.5 396.3 567 396.3 Q563.4 396.3 563.1 394Z" fill="#fff" stroke="#1a1a1a" stroke-width="1.15"/>
<path d="M571.1 332.5 L571.1 326.8 Q572 324.3 575 324.1 L579.2 324.1 L579.2 388.6 L571.1 392.6" fill="#fff" stroke="#1a1a1a" stroke-width="1.15"/>
<path d="M571.1 395.3 L584.2 388.4" stroke="#1a1a1a" stroke-width="1.0" fill="none" stroke-linejoin="round" />
<path d="M571.1 392.6 L579.2 388.6 L584.2 388.4" stroke="#1a1a1a" stroke-width="1.0" fill="none" stroke-linejoin="round" />
<path d="M579.2 324.1 C585 324.1 589.5 325 592.3 327.3 C594 329.2 593.8 332.4 592 334 C590 335.4 587.2 335.4 585.2 336.2 L585.2 404.8 L593.3 398.6 L593.3 332.5" fill="#fff" stroke="#1a1a1a" stroke-width="1.15"/>
<path d="M585.2 336.2 L585.2 404.8" stroke="#1a1a1a" stroke-width="2.0" fill="none" stroke-linejoin="round" />
<path d="M579.2 324.1 L579.2 388.6" stroke="#1a1a1a" stroke-width="1.15" fill="none" stroke-linejoin="round" />
<path d="M729.0 303.0 L714.0 342.1 A8.0 8.0 0 0 0 713.5 345.0 L713.5 450.8 A10.0 10.0 0 0 0 713.8 453.2 L736.4 543.1 A26.0 26.0 0 0 0 765.0 562.5 L842.6 552.2" stroke="#1a1a1a" stroke-width="16.75" fill="none" stroke-linecap="butt" stroke-linejoin="round"/>
<path d="M729.0 303.0 L714.0 342.1 A8.0 8.0 0 0 0 713.5 345.0 L713.5 450.8 A10.0 10.0 0 0 0 713.8 453.2 L736.4 543.1 A26.0 26.0 0 0 0 765.0 562.5 L842.6 552.2" stroke="#fff" stroke-width="14.45" fill="none" stroke-linecap="butt" stroke-linejoin="round"/>
<ellipse cx="729.4" cy="303.3" rx="8.1" ry="6.0" transform="rotate(21 729.4 303.3)" stroke="#1a1a1a" stroke-width="1.7" fill="#fff" />
<path d="M841.2 544.1 Q845.6 550 844.0 560.2" stroke="#1a1a1a" stroke-width="1.2" fill="none"/>
<path d="M636.3 459.5 L705.8 423.2 L705.8 438.2 L636.3 476.0Z" stroke="#1a1a1a" stroke-width="1.15" fill="#fff" stroke-linejoin="round" />
<path d="M636.8 461.9 L705.8 425.6" stroke="#1a1a1a" stroke-width="1.0" fill="none" stroke-linejoin="round" />
<ellipse cx="699.6" cy="434.0" rx="2.1" ry="2.6" transform="rotate(20 699.6 434.0)" stroke="#1a1a1a" stroke-width="1.1" fill="#fff" />
<ellipse cx="700.0" cy="434.2" rx="0.9" ry="1.3" transform="rotate(20 700.0 434.2)" stroke="#1a1a1a" stroke-width="0.4" fill="#1a1a1a" />
<path d="M636.3 411.7 L705.8 374.6 L705.8 388.5 L636.3 424.0Z" stroke="#1a1a1a" stroke-width="1.15" fill="#fff" stroke-linejoin="round" />
<path d="M636.8 414.1 L705.8 377.0" stroke="#1a1a1a" stroke-width="1.0" fill="none" stroke-linejoin="round" />
<ellipse cx="640.2" cy="419.0" rx="2.1" ry="2.6" transform="rotate(20 640.2 419.0)" stroke="#1a1a1a" stroke-width="1.1" fill="#fff" />
<ellipse cx="640.6" cy="419.2" rx="0.9" ry="1.3" transform="rotate(20 640.6 419.2)" stroke="#1a1a1a" stroke-width="0.4" fill="#1a1a1a" />
<ellipse cx="699.6" cy="384.6" rx="2.1" ry="2.6" transform="rotate(20 699.6 384.6)" stroke="#1a1a1a" stroke-width="1.1" fill="#fff" />
<ellipse cx="700.0" cy="384.8" rx="0.9" ry="1.3" transform="rotate(20 700.0 384.8)" stroke="#1a1a1a" stroke-width="0.4" fill="#1a1a1a" />
<path d="M650.5 351.8 L724.1 308.9 L725.0 321.2 L651.4 363.2Z" stroke="#1a1a1a" stroke-width="1.15" fill="#fff" stroke-linejoin="round" />
<path d="M651.0 354.2 L724.1 311.3" stroke="#1a1a1a" stroke-width="1.0" fill="none" stroke-linejoin="round" />
<ellipse cx="657.5" cy="355.5" rx="2.1" ry="2.6" transform="rotate(20 657.5 355.5)" stroke="#1a1a1a" stroke-width="1.1" fill="#fff" />
<ellipse cx="657.9" cy="355.7" rx="0.9" ry="1.3" transform="rotate(20 657.9 355.7)" stroke="#1a1a1a" stroke-width="0.4" fill="#1a1a1a" />
<ellipse cx="718.0" cy="318.4" rx="2.1" ry="2.6" transform="rotate(20 718.0 318.4)" stroke="#1a1a1a" stroke-width="1.1" fill="#fff" />
<ellipse cx="718.4" cy="318.6" rx="0.9" ry="1.3" transform="rotate(20 718.4 318.6)" stroke="#1a1a1a" stroke-width="0.4" fill="#1a1a1a" />
<path d="M636.3 401.8 L664.8 412.4" stroke="#1a1a1a" stroke-width="1.1" fill="none" stroke-linejoin="round" />
<path d="M664.8 412.4 L699.2 425.6 L684.7 435.6 L650.3 419.7Z" stroke="#1a1a1a" stroke-width="1.1" fill="#fff" stroke-linejoin="round" />
<path d="M637.5 421.5 L650.3 419.7" stroke="#1a1a1a" stroke-width="1.0" fill="none" stroke-linejoin="round" />
<path d="M664.8 430.3 L668.5 430.3 L668.5 442.2 L664.8 442.2Z" stroke="#1a1a1a" stroke-width="1.0" fill="#fff" stroke-linejoin="round" />
<path d="M676.5 434.0 L676.5 443.0" stroke="#1a1a1a" stroke-width="1.6" fill="none" stroke-linejoin="round" />
<ellipse cx="643.0" cy="427.0" rx="4.5" ry="3.2" transform="rotate(-30 643.0 427.0)" stroke="#1a1a1a" stroke-width="1.0" fill="#fff" />
<path d="M628.5 402.4 L596.5 380.2" stroke="#1a1a1a" stroke-width="16.95" fill="none" stroke-linecap="butt" stroke-linejoin="round"/>
<path d="M644.3 352.5 L629.0 392.6 A8.0 8.0 0 0 0 628.5 395.5 L628.5 481.9 A40.0 40.0 0 0 0 629.3 490.0 L650.9 593.0 A30.0 30.0 0 0 1 651.5 599.1 L651.5 618.2 A30.0 30.0 0 0 1 649.4 629.4 L631.5 674.0" stroke="#1a1a1a" stroke-width="16.75" fill="none" stroke-linecap="butt" stroke-linejoin="round"/>
<path d="M628.5 402.4 L596.5 380.2" stroke="#fff" stroke-width="14.65" fill="none" stroke-linecap="butt" stroke-linejoin="round"/>
<path d="M644.3 352.5 L629.0 392.6 A8.0 8.0 0 0 0 628.5 395.5 L628.5 481.9 A40.0 40.0 0 0 0 629.3 490.0 L650.9 593.0 A30.0 30.0 0 0 1 651.5 599.1 L651.5 618.2 A30.0 30.0 0 0 1 649.4 629.4 L631.5 674.0" stroke="#fff" stroke-width="14.45" fill="none" stroke-linecap="butt" stroke-linejoin="round"/>
<ellipse cx="644.4" cy="352.6" rx="7.8" ry="6.2" transform="rotate(21 644.4 352.6)" stroke="#1a1a1a" stroke-width="1.7" fill="#fff" />
<ellipse cx="630.4" cy="674.3" rx="8.0" ry="7.0" transform="rotate(22 630.4 674.3)" stroke="#1a1a1a" stroke-width="1.9" fill="#fff" />
<path d="M620.7 437.5 A7.8 3.3 0 0 0 636.3 437.5" stroke="#1a1a1a" stroke-width="2.1" fill="none"/>
<path d="M621.3 438.9 A7.2 3.3 0 0 0 635.7 438.9" stroke="#1a1a1a" stroke-width="0.9" fill="none"/>
<path d="M621.3 432.5 L618.5 436.0 L621.3 438.1 Z" fill="#1a1a1a"/>
<path d="M636.0 432.9 C639.3 431.9 642.3 434.0 640.8 436.5 C639.8 438.0 637.3 439.0 636.0 438.3" stroke="#1a1a1a" stroke-width="1.5" fill="#fff"/>
<path d="M626.7 441.4 L627.9 443.4 L629.3 441.4Z" fill="#1a1a1a"/>
<path d="M620.7 472.5 A7.8 3.3 0 0 0 636.3 472.5" stroke="#1a1a1a" stroke-width="2.1" fill="none"/>
<path d="M621.3 473.9 A7.2 3.3 0 0 0 635.7 473.9" stroke="#1a1a1a" stroke-width="0.9" fill="none"/>
<path d="M621.3 467.5 L618.5 471.0 L621.3 473.1 Z" fill="#1a1a1a"/>
<path d="M636.0 467.9 C639.3 466.9 642.3 469.0 640.8 471.5 C639.8 473.0 637.3 474.0 636.0 473.3" stroke="#1a1a1a" stroke-width="1.5" fill="#fff"/>
<path d="M626.7 476.4 L627.9 478.4 L629.3 476.4Z" fill="#1a1a1a"/>
<path d="M686.4 296.5 L689.0 295.0 L702.5 319.5 L700.0 321.0Z" stroke="#1a1a1a" stroke-width="1.0" fill="#fff" stroke-linejoin="round" />
<ellipse cx="747.6" cy="259.3" rx="9.0" ry="8.5" transform="rotate(0 747.6 259.3)" stroke="#1a1a1a" stroke-width="0.8" fill="#1a1a1a" />
<ellipse cx="748.4" cy="257.4" rx="7.0" ry="5.5" transform="rotate(12 748.4 257.4)" stroke="#1a1a1a" stroke-width="0.0" fill="#fff" stroke-opacity="0"/>
<ellipse cx="661.0" cy="309.9" rx="8.6" ry="7.7" transform="rotate(0 661.0 309.9)" stroke="#1a1a1a" stroke-width="0.8" fill="#1a1a1a" />
<ellipse cx="661.8" cy="308.0" rx="6.7" ry="5.0" transform="rotate(12 661.8 308.0)" stroke="#1a1a1a" stroke-width="0.0" fill="#fff" stroke-opacity="0"/>
<ellipse cx="612.2" cy="715.1" rx="9.1" ry="8.7" transform="rotate(0 612.2 715.1)" stroke="#1a1a1a" stroke-width="0.8" fill="#1a1a1a" />
<ellipse cx="611.4" cy="716.9" rx="7.0" ry="6.2" transform="rotate(12 611.4 716.9)" stroke="#1a1a1a" stroke-width="0.0" fill="#fff" stroke-opacity="0"/>
<path d="M742.9 268.7 L730.5 302.0" stroke="#1a1a1a" stroke-width="1.0" stroke-dasharray="4 3" fill="none"/>
<path d="M657.5 318.3 L645.5 352.0" stroke="#1a1a1a" stroke-width="1.0" stroke-dasharray="4 3" fill="none"/>
<path d="M629.5 676.5 L615.6 707.5" stroke="#1a1a1a" stroke-width="1.0" stroke-dasharray="4 3" fill="none"/>
<path d="M846.3 551.3 L873.7 546.9" stroke="#1a1a1a" stroke-width="1.0" stroke-dasharray="4 3" fill="none"/>
<path d="M327.2 397.8 L349.5 410.2" stroke="#1a1a1a" stroke-width="1.0" stroke-dasharray="4 3" fill="none"/>
<path d="M874.5 538.5 Q878 536.5 882.5 537 Q884.5 545 883.8 552.5 Q879 554.5 875.5 553.2 Q873.2 546 874.5 538.5Z" fill="#1a1a1a"/>
<path d="M875.8 542 Q877.2 547 876.8 551.5 Q875.2 547 875.8 542Z" fill="#fff"/>
<ellipse cx="320.5" cy="392.5" rx="8.2" ry="8.8" transform="rotate(20 320.5 392.5)" stroke="#1a1a1a" stroke-width="0.8" fill="#1a1a1a" />
<ellipse cx="322.5" cy="393.7" rx="4.5" ry="6.5" transform="rotate(28 322.5 393.7)" stroke="#1a1a1a" stroke-width="0.0" fill="#fff" stroke-opacity="0"/>
<path d="M319.9 398.1 L323.9 388.5" stroke="#1a1a1a" stroke-width="1.5" fill="none" stroke-linejoin="round" />
<ellipse cx="461.8" cy="311.0" rx="8.0" ry="8.8" transform="rotate(20 461.8 311.0)" stroke="#1a1a1a" stroke-width="0.8" fill="#1a1a1a" />
<ellipse cx="463.8" cy="312.2" rx="4.4" ry="6.5" transform="rotate(28 463.8 312.2)" stroke="#1a1a1a" stroke-width="0.0" fill="#fff" stroke-opacity="0"/>
<path d="M461.2 316.6 L465.2 307.0" stroke="#1a1a1a" stroke-width="1.5" fill="none" stroke-linejoin="round" />
<path d="M245.5 637.9 L458.8 515.2" stroke="#1a1a1a" stroke-width="9.55" fill="none" stroke-linecap="butt" stroke-linejoin="round"/>
<path d="M245.5 637.9 L458.8 515.2" stroke="#fff" stroke-width="7.25" fill="none" stroke-linecap="butt" stroke-linejoin="round"/>
<path d="M456.6 510.9 C459.8 509.0 464.2 516.8 461.0 518.7" stroke="#1a1a1a" stroke-width="2.2" fill="#fff"/>
<ellipse cx="245.3" cy="637.6" rx="3.7" ry="4.7" transform="rotate(28 245.3 637.6)" stroke="#1a1a1a" stroke-width="2.3" fill="#fff" />
<path d="M243.2 635.5 Q242.2 638.5 244 641" stroke="#1a1a1a" stroke-width="1.0" fill="none"/>
<path d="M112.3 637.3 L112.8 635.9 L113.2 634.6 L113.8 633.2 L114.3 631.9 L114.9 630.7 L115.5 629.5 L116.2 628.3 L116.9 627.1 L117.6 626.0 L120.1 622.4 L120.9 621.3 L121.7 620.3 L124.4 616.9 L125.3 615.9 L126.1 614.9 L127.1 613.9 L128.0 613.0 L131.2 610.1 L132.2 609.2 L133.2 608.4 L134.2 607.7 L135.3 607.0 L136.4 606.3 L140.0 604.1 L141.1 603.4 L142.3 602.9 L143.5 602.4 L144.7 601.9 L148.7 600.5 L149.9 600.1 L151.2 599.8 L152.4 599.4 L153.7 599.2 L155.0 599.0 L159.3 598.4 L160.5 598.3 L161.9 598.2 L163.2 598.2 L164.5 598.2 L168.9 598.2 L170.2 598.3 L171.5 598.4 L175.9 598.8 L177.2 599.0 L178.5 599.2 L179.8 599.4 L181.2 599.7 L182.5 600.1 L183.9 600.5 L185.2 600.9 L186.6 601.4 L187.9 602.0 L189.3 602.6 L190.7 603.2 L192.0 603.9 L193.4 604.7 L194.8 605.4 L196.1 606.3 L197.5 607.1 L198.8 608.0 L200.2 609.0 L201.6 610.0 L202.9 611.0 L204.2 612.1 L205.6 613.2 L206.9 614.4 L208.2 615.6 L209.5 616.8 L210.8 618.1 L212.1 619.4 L213.3 620.7 L214.6 622.1 L215.8 623.5 L217.0 625.0 L218.2 626.4 L219.4 628.0 L220.6 629.5 L221.7 631.1 L222.9 632.6 L224.0 634.3 L225.1 635.9 L226.1 637.6 L227.2 639.2 L228.2 641.0 L229.2 642.7 L230.2 644.4 L231.1 646.2 L232.0 648.0 L232.9 649.8 L233.8 651.6 L234.6 653.4 L235.4 655.3 L236.2 657.1 L236.9 659.0 L237.6 660.8 L238.3 662.7 L239.0 664.6 L239.6 666.5 L240.2 668.4 L240.8 670.2 L241.3 672.1 L241.8 674.0 L242.2 675.9 L242.7 677.8 L243.1 679.7 L243.4 681.5 L243.7 683.4 L244.0 685.2 L244.3 687.1 L244.5 688.9 L244.7 690.7 L244.8 692.5 L244.9 694.3 L245.0 696.1 L245.0 697.9 L245.0 699.6 L245.0 701.3 L244.9 703.0 L244.8 704.7 L244.7 706.3 L244.5 708.0 L244.3 709.6 L244.1 711.2 L243.8 712.7 L243.5 714.2 L243.1 715.7 L242.7 717.2 L242.3 718.6 L241.8 720.0 L241.4 721.3 L240.8 722.7 L240.3 724.0 L239.7 725.2 L239.1 726.4 L238.4 727.6 L237.7 728.8 L237.0 729.9 L234.5 733.5 L233.7 734.6 L232.9 735.6 L230.2 739.0 L229.3 740.0 L228.5 741.0 L227.5 742.0 L226.6 742.9 L223.4 745.8 L222.4 746.7 L221.4 747.5 L220.4 748.2 L219.3 748.9 L218.2 749.6 L214.6 751.8 L213.5 752.5 L212.3 753.0 L211.1 753.5 L209.9 754.0 L205.9 755.4 L204.7 755.8 L203.4 756.1 L202.2 756.5 L200.9 756.7 L199.6 756.9 L195.3 757.5 L194.1 757.6 L192.7 757.7 L191.4 757.7 L190.1 757.7 L185.7 757.7 L184.4 757.6 L183.1 757.5 L178.7 757.1 L177.4 756.9 L176.1 756.7 L174.8 756.5 L173.4 756.2 L172.1 755.8 L170.7 755.4 L169.4 755.0 L168.0 754.5 L166.7 753.9 L165.3 753.3 L163.9 752.7 L162.6 752.0 L161.2 751.2 L159.8 750.5 L158.5 749.6 L157.1 748.8 L155.8 747.9 L154.4 746.9 L153.0 745.9 L151.7 744.9 L150.4 743.8 L149.0 742.7 L147.7 741.5 L146.4 740.3 L145.1 739.1 L143.8 737.8 L142.5 736.5 L141.3 735.2 L140.0 733.8 L138.8 732.4 L137.6 730.9 L136.4 729.5 L135.2 727.9 L134.0 726.4 L132.9 724.8 L131.7 723.3 L130.6 721.6 L129.5 720.0 L128.5 718.3 L127.4 716.7 L126.4 714.9 L125.4 713.2 L124.4 711.5 L123.5 709.7 L122.6 707.9 L121.7 706.1 L120.8 704.3 L120.0 702.5 L119.2 700.6 L118.4 698.8 L117.7 696.9 L117.0 695.1 L116.3 693.2 L115.6 691.3 L115.0 689.4 L114.4 687.5 L113.8 685.7 L113.3 683.8 L112.8 681.9 L112.4 680.0 L111.9 678.1 L111.5 676.2 L111.2 674.4 L110.9 672.5 L110.6 670.7 L110.3 668.8 L110.1 667.0 L109.9 665.2 L109.8 663.4 L109.7 661.6 L109.6 659.8 L109.6 658.0 L109.6 656.3 L109.6 654.6 L109.7 652.9 L109.8 651.2 L109.9 649.6 L110.1 647.9 L110.3 646.3 L110.5 644.7 L110.8 643.2 L111.1 641.7 L111.5 640.2 L111.9 638.7Z" fill="#4a4a4a" stroke="#1a1a1a" stroke-width="1.4"/>
<path d="M164.9 753.1 L169.2 754.5 L172.9 754.7 L171.7 753.4 L166.9 751.9 L163.3 751.8Z M171.6 755.7 L175.9 756.6 L179.8 756.8 L178.8 756.1 L173.9 755.1 L170.2 754.8Z M178.2 757.0 L182.5 757.4 L186.6 757.7 L185.7 757.5 L180.8 757.0 L176.9 756.8Z M184.5 757.2 L188.7 757.0 L192.9 757.3 L192.3 757.7 L187.5 757.7 L183.4 757.4Z M190.4 756.1 L194.5 755.5 L198.9 755.7 L198.5 756.6 L193.8 757.2 L189.5 756.9Z M195.8 753.9 L199.7 752.7 L204.2 752.8 L204.2 754.2 L199.6 755.4 L195.2 755.1Z M200.7 750.5 L204.3 748.7 L209.0 748.8 L209.3 750.6 L204.9 752.3 L200.4 752.2Z M204.9 746.0 L208.3 743.7 L213.0 743.6 L213.7 745.9 L209.6 748.1 L204.9 748.1Z M208.3 740.4 L211.4 737.7 L216.3 737.5 L217.3 740.1 L213.5 742.8 L208.7 742.9Z M211.0 733.9 L213.8 730.8 L218.7 730.4 L220.1 733.3 L216.7 736.5 L211.8 736.8Z M212.9 726.7 L215.3 723.1 L220.2 722.5 L222.1 725.6 L219.0 729.3 L214.0 729.7Z M213.9 718.7 L215.9 714.7 L220.9 713.9 L223.1 717.2 L220.4 721.3 L215.4 721.9Z M214.0 710.1 L215.6 705.9 L220.6 704.8 L223.2 708.2 L220.9 712.6 L215.9 713.5Z M213.2 701.1 L214.5 696.7 L219.4 695.3 L222.4 698.8 L220.5 703.5 L215.5 704.6Z M211.6 691.9 L212.5 687.3 L217.3 685.7 L220.7 689.1 L219.2 694.0 L214.2 695.4Z M209.1 682.5 L209.6 677.8 L214.4 675.9 L218.1 679.3 L217.0 684.3 L212.1 685.9Z M205.8 673.2 L206.0 668.4 L210.7 666.3 L214.7 669.5 L213.9 674.6 L209.1 676.5Z M201.8 664.1 L201.6 659.4 L206.2 657.0 L210.5 659.9 L210.1 665.0 L205.4 667.2Z M197.1 655.3 L196.6 650.7 L201.0 648.1 L205.5 650.7 L205.5 655.8 L200.9 658.1Z M191.8 647.1 L191.0 642.6 L195.3 639.9 L200.0 642.0 L200.3 646.9 L195.8 649.6Z M186.0 639.5 L185.0 635.3 L189.1 632.3 L193.9 634.1 L194.5 638.7 L190.2 641.6Z M179.8 632.6 L178.5 628.7 L182.5 625.6 L187.4 626.9 L188.2 631.3 L184.1 634.3Z M173.3 626.7 L171.9 623.1 L175.7 619.8 L180.5 620.6 L181.6 624.7 L177.6 627.9Z M166.6 621.7 L165.0 618.6 L168.6 615.1 L173.5 615.4 L174.7 619.1 L170.9 622.4Z M159.8 617.8 L158.2 615.1 L161.6 611.6 L166.4 611.3 L167.7 614.6 L164.1 618.0Z M153.1 615.1 L151.4 612.9 L154.6 609.3 L159.3 608.4 L160.6 611.2 L157.2 614.7Z M146.5 613.5 L144.8 611.8 L147.9 608.2 L152.4 606.8 L153.7 609.0 L150.5 612.6Z M140.1 613.1 L138.6 612.0 L141.5 608.3 L145.7 606.4 L147.0 608.1 L143.9 611.8Z M134.1 614.0 L132.7 613.4 L135.5 609.8 L139.4 607.3 L140.6 608.5 L137.7 612.1Z M128.6 616.0 L127.4 616.0 L130.0 612.4 L133.6 609.5 L134.6 610.1 L131.9 613.7Z M123.7 619.3 L122.6 619.7 L125.1 616.3 L128.4 612.9 L129.2 612.9 L126.7 616.4Z M119.4 623.6 L118.6 624.5 L120.9 621.3 L123.9 617.4 L124.5 616.9 L122.0 620.3Z M115.8 629.0 L115.3 630.4 L117.6 627.3 L120.1 623.1 L120.4 622.0 L118.1 625.3Z M113.0 635.3 L112.8 637.2 L115.0 634.2 L117.2 629.7 L117.1 628.2 L114.9 631.3Z M167.2 751.6 L172.1 753.1 L175.7 752.6 L174.3 750.5 L171.2 750.2 L167.6 750.8Z M174.3 754.9 L179.2 755.9 L182.9 755.4 L181.6 753.9 L176.7 753.1 L173.1 753.6Z M181.3 757.0 L186.2 757.4 L190.0 757.0 L188.8 756.0 L183.9 755.7 L180.2 756.2Z M188.0 757.8 L192.8 757.7 L196.7 757.2 L195.8 756.8 L190.9 757.1 L187.1 757.6Z M194.4 757.3 L199.1 756.7 L203.1 756.2 L202.3 756.3 L197.7 757.2 L193.7 757.6Z M200.3 755.6 L204.8 754.4 L209.0 753.9 L208.5 754.6 L204.0 756.0 L199.9 756.4Z M205.7 752.6 L210.0 750.9 L214.2 750.3 L214.0 751.5 L209.7 753.4 L205.6 754.0Z M210.4 748.4 L214.5 746.2 L218.8 745.5 L218.9 747.2 L214.9 749.7 L210.7 750.3Z M214.4 743.2 L218.2 740.4 L222.5 739.7 L223.0 741.8 L219.3 744.8 L215.1 745.4Z M217.6 736.9 L221.1 733.6 L225.5 732.8 L226.3 735.3 L223.0 738.8 L218.7 739.5Z M220.0 729.7 L223.1 726.0 L227.5 725.0 L228.8 727.9 L225.8 731.8 L221.4 732.6Z M221.5 721.7 L224.2 717.6 L228.7 716.5 L230.3 719.6 L227.7 723.9 L223.3 724.9Z M222.1 713.0 L224.4 708.6 L228.8 707.4 L230.9 710.7 L228.7 715.3 L224.3 716.4Z M221.7 703.9 L223.7 699.2 L228.1 697.8 L230.6 701.2 L228.8 706.0 L224.4 707.3Z M220.5 694.3 L222.0 689.4 L226.4 687.9 L229.3 691.4 L227.9 696.4 L223.5 697.8Z M218.3 684.6 L219.4 679.5 L223.8 677.8 L227.0 681.3 L226.1 686.5 L221.7 688.0Z M215.3 674.8 L216.0 669.7 L220.3 667.8 L223.9 671.3 L223.4 676.4 L219.0 678.1Z M211.5 665.2 L211.9 660.1 L216.1 658.0 L220.0 661.3 L219.8 666.4 L215.5 668.3Z M206.9 655.8 L206.9 650.8 L211.1 648.6 L215.3 651.7 L215.4 656.7 L211.2 658.7Z M201.7 646.9 L201.4 642.0 L205.5 639.7 L209.9 642.5 L210.4 647.3 L206.2 649.5Z M195.9 638.6 L195.3 633.9 L199.3 631.5 L203.9 633.9 L204.6 638.5 L200.6 640.9Z M189.6 631.1 L188.8 626.7 L192.7 624.1 L197.5 626.1 L198.4 630.4 L194.4 632.9Z M183.0 624.4 L182.0 620.3 L185.7 617.7 L190.6 619.2 L191.7 623.2 L187.9 625.7Z M176.1 618.7 L174.9 615.0 L178.5 612.3 L183.5 613.3 L184.7 616.9 L181.0 619.5Z M169.0 614.1 L167.7 610.8 L171.3 608.0 L176.2 608.6 L177.5 611.6 L173.9 614.4Z M161.9 610.6 L160.6 607.8 L164.0 605.0 L168.9 605.0 L170.3 607.5 L166.7 610.3Z M155.0 608.3 L153.6 606.1 L156.9 603.2 L161.7 602.6 L163.0 604.7 L159.6 607.5Z M148.2 607.3 L146.9 605.6 L150.1 602.7 L154.7 601.6 L156.0 603.1 L152.7 605.9Z M141.7 607.6 L140.6 606.4 L143.7 603.6 L148.0 601.9 L149.2 602.8 L146.0 605.7Z M135.7 609.1 L134.7 608.5 L137.7 605.7 L141.8 603.4 L142.8 603.8 L139.7 606.6Z M130.3 611.9 L129.4 611.8 L132.4 609.1 L136.2 606.3 L136.9 606.1 L133.9 608.9Z M125.4 615.8 L124.8 616.3 L127.7 613.6 L131.2 610.4 L131.7 609.6 L128.8 612.4Z M121.3 620.9 L121.0 621.9 L123.8 619.3 L126.9 615.6 L127.1 614.4 L124.3 617.1Z M117.9 627.0 L118.0 628.5 L120.7 626.0 L123.5 621.9 L123.3 620.2 L120.5 622.8Z M115.4 634.1 L115.8 636.0 L118.5 633.7 L120.9 629.2 L120.3 627.0 L117.6 629.5Z M177.1 752.6 L182.0 753.4 L185.6 751.7 L184.2 749.3 L179.3 748.8 L175.7 750.5Z M184.3 755.4 L189.2 755.6 L192.8 753.9 L191.4 752.0 L186.6 752.1 L183.0 753.8Z M191.4 756.8 L196.2 756.5 L199.7 754.9 L198.5 753.5 L193.8 754.1 L190.2 755.8Z M198.1 757.0 L202.8 756.1 L206.4 754.5 L205.2 753.7 L200.7 754.9 L197.1 756.5Z M204.5 755.9 L209.0 754.4 L212.5 752.8 L211.6 752.5 L207.2 754.3 L203.7 756.0Z M210.3 753.4 L214.6 751.4 L218.1 749.8 L217.4 750.1 L213.3 752.4 L209.8 754.1Z M215.5 749.8 L219.5 747.2 L223.1 745.6 L222.6 746.5 L218.8 749.3 L215.3 750.9Z M220.0 744.9 L223.7 741.9 L227.2 740.2 L227.2 741.6 L223.7 744.9 L220.1 746.6Z M223.8 739.0 L227.1 735.5 L230.6 733.8 L230.9 735.6 L227.8 739.4 L224.2 741.0Z M226.7 732.0 L229.6 728.1 L233.1 726.4 L233.8 728.7 L231.0 732.8 L227.5 734.5Z M228.6 724.2 L231.2 719.9 L234.7 718.2 L235.8 720.8 L233.4 725.3 L229.9 727.0Z M229.7 715.6 L231.9 711.0 L235.4 709.3 L236.8 712.2 L234.9 717.0 L231.3 718.7Z M229.8 706.4 L231.6 701.5 L235.1 699.9 L236.9 703.0 L235.4 708.0 L231.9 709.7Z M229.0 696.7 L230.3 691.7 L233.9 690.0 L236.1 693.4 L235.0 698.5 L231.4 700.2Z M227.2 686.8 L228.2 681.6 L231.7 680.0 L234.4 683.5 L233.6 688.6 L230.1 690.3Z M224.6 676.7 L225.1 671.5 L228.7 669.9 L231.7 673.4 L231.4 678.6 L227.8 680.2Z M221.1 666.7 L221.2 661.6 L224.8 659.9 L228.2 663.4 L228.2 668.5 L224.6 670.1Z M216.7 656.9 L216.6 651.9 L220.1 650.2 L223.9 653.6 L224.2 658.5 L220.6 660.2Z M211.7 647.5 L211.2 642.6 L214.8 641.0 L218.8 644.2 L219.4 648.9 L215.9 650.6Z M206.0 638.6 L205.3 634.0 L208.8 632.4 L213.1 635.3 L214.0 639.7 L210.4 641.4Z M199.8 630.4 L198.8 626.2 L202.4 624.5 L206.9 627.1 L208.0 631.2 L204.4 632.9Z M193.1 623.1 L192.0 619.2 L195.5 617.5 L200.2 619.8 L201.4 623.5 L197.9 625.1Z M186.1 616.7 L184.9 613.2 L188.4 611.5 L193.2 613.4 L194.5 616.6 L191.0 618.3Z M178.9 611.4 L177.6 608.3 L181.1 606.7 L186.0 608.0 L187.4 610.8 L183.8 612.5Z M171.6 607.2 L170.3 604.7 L173.8 603.0 L178.7 603.9 L180.1 606.1 L176.5 607.8Z M164.4 604.2 L163.0 602.2 L166.6 600.6 L171.5 600.9 L172.8 602.6 L169.2 604.2Z M157.3 602.5 L156.0 601.1 L159.6 599.4 L164.4 599.2 L165.6 600.3 L162.0 602.0Z M150.5 602.2 L149.3 601.3 L152.9 599.6 L157.6 598.8 L158.6 599.4 L155.0 601.1Z M144.0 603.1 L143.1 602.8 L146.6 601.1 L151.1 599.7 L152.0 599.7 L148.4 601.4Z M138.1 605.3 L137.4 605.5 L140.9 603.9 L145.2 602.0 L145.8 601.4 L142.2 603.1Z M132.8 608.8 L132.3 609.5 L135.9 607.9 L139.9 605.4 L140.2 604.4 L136.6 606.0Z M128.1 613.4 L128.0 614.7 L131.5 613.0 L135.3 610.1 L135.2 608.5 L131.7 610.2Z M124.3 619.2 L124.5 621.0 L128.0 619.3 L131.4 615.9 L131.0 613.9 L127.5 615.5Z M121.3 626.0 L121.8 628.2 L125.4 626.5 L128.4 622.7 L127.6 620.3 L124.0 621.9Z M119.1 633.7 L120.3 634.7 L123.9 633.0 L126.2 630.4 L125.1 627.6 L121.5 629.3Z M179.6 748.0 L184.5 748.5 L188.0 745.7 L186.7 742.5 L183.6 743.3 L180.0 746.1Z M186.9 751.4 L191.8 751.3 L195.2 748.4 L193.8 745.8 L189.1 746.1 L185.6 748.9Z M194.1 753.5 L198.8 752.9 L202.1 750.0 L200.8 747.8 L196.1 748.7 L192.8 751.6Z M201.0 754.4 L205.6 753.1 L208.8 750.2 L207.5 748.6 L203.1 750.1 L199.8 753.0Z M207.6 753.9 L212.0 752.1 L215.0 749.2 L213.9 748.2 L209.7 750.2 L206.5 753.0Z M213.7 752.1 L217.8 749.7 L220.8 746.9 L219.8 746.4 L215.9 749.0 L212.8 751.8Z M219.3 749.0 L223.1 746.2 L226.0 743.4 L225.2 743.5 L221.6 746.5 L218.6 749.3Z M224.2 744.7 L227.6 741.4 L230.4 738.7 L229.9 739.3 L226.6 742.8 L223.7 745.6Z M228.3 739.3 L231.4 735.5 L234.2 732.9 L233.9 734.1 L231.0 738.0 L228.2 740.6Z M231.6 732.8 L234.3 728.7 L237.1 726.2 L237.1 727.8 L234.6 732.0 L231.8 734.6Z M234.1 725.4 L236.4 720.9 L239.1 718.5 L239.5 720.6 L237.4 725.1 L234.7 727.6Z M235.6 717.1 L237.5 712.4 L240.2 710.1 L241.0 712.6 L239.3 717.4 L236.6 719.7Z M236.2 708.2 L237.7 703.2 L240.4 701.1 L241.6 703.9 L240.3 708.9 L237.6 711.1Z M235.9 698.7 L236.9 693.6 L239.6 691.7 L241.2 694.7 L240.3 699.8 L237.6 701.9Z M234.6 688.9 L235.2 683.7 L237.9 681.9 L240.0 685.2 L239.4 690.3 L236.7 692.3Z M232.3 678.9 L232.6 673.7 L235.4 672.1 L237.8 675.5 L237.6 680.6 L234.9 682.3Z M229.2 668.8 L229.2 663.7 L232.0 662.2 L234.8 665.7 L235.0 670.7 L232.2 672.3Z M225.3 658.8 L224.9 653.9 L227.8 652.6 L231.0 656.1 L231.5 660.9 L228.6 662.3Z M220.6 649.2 L220.0 644.5 L222.9 643.3 L226.4 646.7 L227.2 651.3 L224.3 652.6Z M215.2 640.0 L214.3 635.6 L217.4 634.6 L221.2 637.8 L222.2 642.1 L219.2 643.2Z M209.2 631.4 L208.1 627.4 L211.3 626.5 L215.4 629.5 L216.5 633.4 L213.5 634.4Z M202.7 623.6 L201.5 620.0 L204.8 619.2 L209.2 622.0 L210.4 625.4 L207.2 626.3Z M195.9 616.7 L194.6 613.5 L197.9 612.9 L202.5 615.3 L203.8 618.3 L200.6 619.0Z M188.8 610.9 L187.4 608.1 L190.9 607.5 L195.6 609.6 L196.9 612.1 L193.6 612.7Z M181.5 606.1 L180.1 603.9 L183.7 603.4 L188.5 604.9 L189.9 606.9 L186.4 607.5Z M174.2 602.5 L172.9 600.9 L176.6 600.4 L181.5 601.5 L182.7 602.9 L179.1 603.4Z M167.0 600.2 L165.8 599.1 L169.6 598.6 L174.5 599.2 L175.6 600.1 L171.9 600.5Z M160.0 599.1 L159.0 598.6 L162.9 598.2 L167.7 598.2 L168.6 598.5 L164.8 598.9Z M153.3 599.4 L152.5 599.4 L156.5 599.0 L161.3 598.4 L162.0 598.2 L158.0 598.6Z M147.1 601.0 L146.6 601.5 L150.7 601.1 L155.2 600.0 L155.7 599.2 L151.6 599.7Z M141.5 603.8 L141.2 604.9 L145.4 604.4 L149.8 602.7 L149.9 601.4 L145.8 601.9Z M136.5 607.9 L136.5 609.5 L140.8 608.9 L144.9 606.7 L144.7 604.9 L140.5 605.5Z M132.2 613.1 L132.6 615.2 L137.0 614.5 L140.8 611.8 L140.2 609.6 L135.9 610.2Z M128.8 619.5 L129.6 621.9 L133.9 621.1 L137.4 617.9 L136.5 615.3 L132.1 616.1Z M126.2 626.7 L127.4 629.5 L131.8 628.6 L134.9 624.9 L133.6 622.1 L129.2 622.9Z M189.4 745.1 L194.2 744.8 L197.6 741.2 L195.9 738.6 L191.7 738.5 L188.1 742.0Z M196.5 747.8 L201.1 746.9 L204.3 743.3 L202.6 741.2 L198.5 741.6 L195.1 745.1Z M203.4 749.3 L207.8 747.8 L210.8 744.2 L209.2 742.5 L205.2 743.5 L202.0 747.1Z M210.0 749.4 L214.2 747.4 L217.0 743.8 L215.5 742.7 L211.7 744.2 L208.7 747.8Z M216.2 748.3 L220.1 745.8 L222.8 742.2 L221.4 741.6 L217.9 743.6 L215.0 747.2Z M221.9 745.9 L225.5 742.9 L228.1 739.4 L226.8 739.4 L223.6 741.9 L220.9 745.4Z M227.0 742.4 L230.2 738.9 L232.7 735.5 L231.7 736.0 L228.7 738.9 L226.2 742.4Z M231.4 737.6 L234.3 733.7 L236.6 730.4 L235.9 731.5 L233.3 734.8 L230.8 738.2Z M235.0 731.8 L237.5 727.5 L239.8 724.4 L239.3 725.9 L237.1 729.7 L234.8 732.9Z M237.8 725.0 L239.9 720.4 L242.1 717.5 L242.0 719.4 L240.2 723.5 L237.9 726.6Z M239.8 717.3 L241.5 712.5 L243.6 709.8 L243.9 712.2 L242.4 716.5 L240.2 719.4Z M240.8 708.9 L242.1 704.0 L244.3 701.5 L244.9 704.2 L243.8 708.7 L241.6 711.4Z M240.9 700.0 L241.8 694.9 L244.0 692.6 L245.0 695.6 L244.3 700.3 L242.1 702.7Z M240.1 690.5 L240.7 685.4 L242.8 683.4 L244.2 686.6 L243.9 691.4 L241.7 693.6Z M238.4 680.8 L238.6 675.7 L240.8 674.0 L242.6 677.4 L242.6 682.1 L240.4 684.1Z M235.8 671.0 L235.6 666.0 L237.9 664.5 L240.1 668.0 L240.5 672.7 L238.2 674.4Z M232.4 661.2 L231.9 656.4 L234.3 655.2 L236.8 658.7 L237.5 663.2 L235.2 664.7Z M228.1 651.6 L227.4 647.1 L229.9 646.1 L232.8 649.6 L233.7 653.9 L231.3 655.1Z M223.2 642.4 L222.3 638.2 L224.9 637.5 L228.1 640.8 L229.3 644.9 L226.7 645.8Z M217.7 633.8 L216.6 629.9 L219.4 629.4 L222.8 632.6 L224.2 636.3 L221.5 637.0Z M211.6 625.8 L210.3 622.3 L213.3 622.0 L217.0 625.0 L218.5 628.3 L215.7 628.8Z M205.1 618.6 L203.8 615.6 L206.9 615.5 L210.8 618.1 L212.4 621.0 L209.4 621.4Z M198.2 612.4 L196.9 609.9 L200.2 609.9 L204.3 612.2 L206.0 614.6 L202.8 614.8Z M191.2 607.1 L189.9 605.2 L193.4 605.3 L197.6 607.2 L199.3 609.2 L195.9 609.2Z M184.1 603.1 L182.8 601.7 L186.5 601.9 L190.8 603.3 L192.4 604.8 L188.9 604.6Z M177.0 600.2 L175.9 599.3 L179.8 599.6 L184.1 600.6 L185.6 601.5 L181.9 601.3Z M170.1 598.5 L169.1 598.2 L173.2 598.5 L177.5 599.0 L178.8 599.4 L174.9 599.1Z M163.4 598.1 L162.7 598.4 L166.9 598.7 L171.1 598.6 L172.3 598.5 L168.2 598.2Z M157.1 599.0 L156.7 599.8 L161.1 600.1 L165.1 599.5 L166.1 598.8 L161.8 598.5Z M151.3 601.2 L151.2 602.5 L155.7 602.7 L159.6 601.5 L160.3 600.4 L155.9 600.1Z M146.1 604.6 L146.4 606.4 L151.0 606.4 L154.7 604.8 L155.0 603.1 L150.5 603.0Z M141.6 609.1 L142.2 611.3 L146.9 611.3 L150.4 609.1 L150.4 607.1 L145.7 607.0Z M137.8 614.8 L138.8 617.3 L143.6 617.1 L146.8 614.5 L146.4 612.0 L141.7 612.1Z M134.9 621.4 L136.2 624.3 L141.2 623.9 L144.0 620.8 L143.2 618.0 L138.4 618.3Z" fill="#fff" stroke="#1a1a1a" stroke-width="1.25" stroke-linejoin="round"/>
<ellipse cx="161.8" cy="685.2" rx="74.55" ry="43.93" transform="rotate(65.0 161.8 685.2)" fill="#fff" stroke="#1a1a1a" stroke-width="1.4"/>
<ellipse cx="166.3" cy="682.9" rx="46.13" ry="30.13" transform="rotate(65.0 166.3 682.9)" fill="none" stroke="#1a1a1a" stroke-width="1.19"/>
<ellipse cx="168.2" cy="683.1" rx="43.85" ry="27.01" transform="rotate(65.0 168.2 683.1)" fill="none" stroke="#1a1a1a" stroke-width="1.19"/>
<ellipse cx="168.6" cy="682.9" rx="42.00" ry="25.86" transform="rotate(65.0 168.6 682.9)" fill="none" stroke="#1a1a1a" stroke-width="1.1199999999999999"/>
<ellipse cx="171.0" cy="683.6" rx="35.82" ry="20.05" transform="rotate(65.0 171.0 683.6)" fill="none" stroke="#1a1a1a" stroke-width="1.19"/>
<ellipse cx="171.0" cy="682.9" rx="33.50" ry="18.00" transform="rotate(65.0 171.0 682.9)" fill="none" stroke="#1a1a1a" stroke-width="1.1199999999999999"/>
<ellipse cx="172.8" cy="679.0" rx="18.39" ry="12.25" transform="rotate(65.0 172.8 679.0)" fill="none" stroke="#1a1a1a" stroke-width="1.19"/>
<ellipse cx="171.6" cy="680.2" rx="9.18" ry="7.15" transform="rotate(65.0 171.6 680.2)" fill="#fff" stroke="#1a1a1a" stroke-width="1.19"/>
<ellipse cx="169.2" cy="680.8" rx="5.33" ry="4.55" transform="rotate(65.0 169.2 680.8)" fill="#fff" stroke="#1a1a1a" stroke-width="2.0"/>
<ellipse cx="169.2" cy="681.3" rx="2.45" ry="2.14" transform="rotate(65.0 169.2 681.3)" fill="none" stroke="#1a1a1a" stroke-width="1.0"/>
<path d="M241.5 639.5 L228.0 647.0" stroke="#1a1a1a" stroke-width="1.0" stroke-dasharray="4 3" fill="none"/>
<path d="M166.5 683.0 L120.5 710.0" stroke="#1a1a1a" stroke-width="1.0" stroke-dasharray="4 3" fill="none"/>
<ellipse cx="114.0" cy="713.2" rx="6.3" ry="7.6" transform="rotate(-17 114.0 713.2)" stroke="#1a1a1a" stroke-width="1.0" fill="#fff" />
<path d="M119.2 709 C120.8 713 119.6 718.5 115.5 719.8" stroke="#1a1a1a" stroke-width="0.8" fill="none"/>
<ellipse cx="113.8" cy="713.6" rx="2.6" ry="3.2" transform="rotate(-17 113.8 713.6)" stroke="#1a1a1a" stroke-width="1.0" fill="#fff" />
<path d="M98.2 721.8 C97.2 717.6 100.6 715.2 103.3 716.6 C105.8 718 106 721.6 104 724.6" stroke="#1a1a1a" stroke-width="2.0" fill="none" stroke-linecap="round"/>
<ellipse cx="98.4" cy="721.2" rx="1.3" ry="1.6" transform="rotate(0 98.4 721.2)" stroke="#1a1a1a" stroke-width="0.3" fill="#1a1a1a" />
<ellipse cx="104.3" cy="724.2" rx="1.3" ry="1.5" transform="rotate(0 104.3 724.2)" stroke="#1a1a1a" stroke-width="0.3" fill="#1a1a1a" />
<path d="M263.2 179.4 L375.0 179.4" stroke="#808080" stroke-width="1.0" fill="none" stroke-linejoin="round" />
<path d="M263.2 389.6 L311.8 389.6" stroke="#808080" stroke-width="1.0" fill="none" stroke-linejoin="round" />
<path d="M64.8 575.7 L245.3 575.7 L271.5 619.3" stroke="#808080" stroke-width="1.0" fill="none" stroke-linejoin="round" />
<path d="M64.8 646.3 L111.7 646.3" stroke="#808080" stroke-width="1.0" fill="none" stroke-linejoin="round" />
<path d="M64.8 682.6 L93.2 682.6 L110.0 707.3" stroke="#808080" stroke-width="1.0" fill="none" stroke-linejoin="round" />
<path d="M64.8 720.3 L95.8 720.3" stroke="#808080" stroke-width="1.0" fill="none" stroke-linejoin="round" />
<text x="110.0" y="45.6" font-family="Liberation Sans" font-weight="bold" font-size="15.6" fill="#231f20" textLength="117.5" lengthAdjust="spacingAndGlyphs">CART ASSEMBLY</text>
<text x="254.2" y="182.8" font-family="Liberation Sans" font-size="14.6" fill="#3a3a3a" transform="translate(254.2 0) scale(0.92 1) translate(-254.2 0)">1</text>
<text x="253.8" y="393.2" font-family="Liberation Sans" font-size="14.6" fill="#3a3a3a" transform="translate(253.8 0) scale(0.92 1) translate(-253.8 0)">2</text>
<text x="55.6" y="579.3" font-family="Liberation Sans" font-size="14.6" fill="#3a3a3a" transform="translate(55.6 0) scale(0.92 1) translate(-55.6 0)">3</text>
<text x="55.0" y="651.0" font-family="Liberation Sans" font-size="14.6" fill="#3a3a3a" transform="translate(55.0 0) scale(0.92 1) translate(-55.0 0)">4</text>
<text x="55.6" y="686.8" font-family="Liberation Sans" font-size="14.6" fill="#3a3a3a" transform="translate(55.6 0) scale(0.92 1) translate(-55.6 0)">5</text>
<text x="55.2" y="724.0" font-family="Liberation Sans" font-size="14.6" fill="#3a3a3a" transform="translate(55.2 0) scale(0.92 1) translate(-55.2 0)">6</text>
</svg></body></html>
